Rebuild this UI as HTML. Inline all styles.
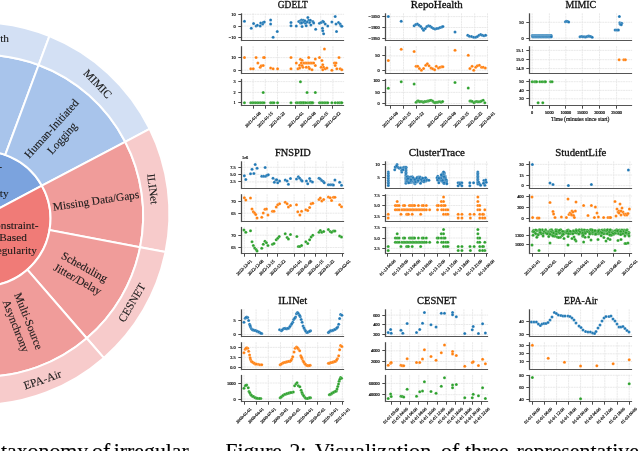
<!DOCTYPE html>
<html><head><meta charset="utf-8"><style>
html,body{margin:0;padding:0;background:#fff;width:640px;height:451px;overflow:hidden}
svg{display:block}
</style></head><body>
<div style="will-change:transform;width:640px;height:451px"><svg width="640" height="451" viewBox="0 0 640 451">
<rect width="640" height="451" fill="#fff"/>
<path d="M-18 217.3 L-84.65 216.14 A67.6 67.6 0 0 1 41.91 185.71 Z" fill="#7ba3de" stroke="#fff" stroke-width="2"/>
<path d="M-18 217.3 L41.91 185.71 A67.6 67.6 0 0 1 -28.77 285.29 Z" fill="#f07b77" stroke="#fff" stroke-width="2"/>
<path d="M-74.59 65.15 A161 161 0 0 1 38.63 65.01 L5.21 154.89 A67.6 67.6 0 0 0 -41 155.46 Z" fill="#a8c4eb" stroke="#fff" stroke-width="2"/>
<path d="M38.63 65.01 A161 161 0 0 1 125.19 141.81 L41.91 185.71 A67.6 67.6 0 0 0 5.21 154.89 Z" fill="#a8c4eb" stroke="#fff" stroke-width="2"/>
<path d="M125.19 141.81 A161 161 0 0 1 140.11 247.18 L49.54 230.06 A67.6 67.6 0 0 0 41.91 185.71 Z" fill="#f09c9a" stroke="#fff" stroke-width="2"/>
<path d="M140.11 247.18 A161 161 0 0 1 86.75 338.23 L27.34 269.64 A67.6 67.6 0 0 0 49.54 230.06 Z" fill="#f09c9a" stroke="#fff" stroke-width="2"/>
<path d="M86.75 338.23 A161 161 0 0 1 -19.39 376.79 L-18.6 286.28 A67.6 67.6 0 0 0 27.34 269.64 Z" fill="#f09c9a" stroke="#fff" stroke-width="2"/>
<path d="M-86.37 33.45 A191.4 191.4 0 0 1 49.38 36.11 L38.63 65.01 A161 161 0 0 0 -74.59 65.15 Z" fill="#d3e0f4" stroke="#fff" stroke-width="2"/>
<path d="M49.38 36.11 A191.4 191.4 0 0 1 149.61 128.93 L125.19 141.81 A161 161 0 0 0 38.63 65.01 Z" fill="#d3e0f4" stroke="#fff" stroke-width="2"/>
<path d="M149.61 128.93 A191.4 191.4 0 0 1 165.53 251.98 L140.11 247.18 A161 161 0 0 0 125.19 141.81 Z" fill="#f7cbcb" stroke="#fff" stroke-width="2"/>
<path d="M165.53 251.98 A191.4 191.4 0 0 1 103.82 357.93 L86.75 338.23 A161 161 0 0 0 140.11 247.18 Z" fill="#f7cbcb" stroke="#fff" stroke-width="2"/>
<path d="M103.82 357.93 A191.4 191.4 0 0 1 -19.64 405.09 L-19.39 376.79 A161 161 0 0 0 86.75 338.23 Z" fill="#f7cbcb" stroke="#fff" stroke-width="2"/>
<text x="13" y="228.5" text-anchor="middle" font-family="Liberation Serif" font-size="11.3" fill="#1a1a1a" stroke="#1a1a1a" stroke-width="0.1">Constraint-</text>
<text x="13" y="241.2" text-anchor="middle" font-family="Liberation Serif" font-size="11.3" fill="#1a1a1a" stroke="#1a1a1a" stroke-width="0.1">Based</text>
<text x="13" y="253.6" text-anchor="middle" font-family="Liberation Serif" font-size="11.3" fill="#1a1a1a" stroke="#1a1a1a" stroke-width="0.1">Regularity</text>
<text x="1.9" y="169.6" text-anchor="end" font-family="Liberation Serif" font-size="11.3" fill="#1a1a1a" stroke="#1a1a1a" stroke-width="0.1">Event-</text>
<text x="8.6" y="197.2" text-anchor="end" font-family="Liberation Serif" font-size="11.3" fill="#1a1a1a" stroke="#1a1a1a" stroke-width="0.1">Irregularity</text>
<g transform="translate(56.9 133.5) rotate(-48)"><text x="0" y="-3.5" text-anchor="middle" font-family="Liberation Serif" font-size="11.3" fill="#1a1a1a" stroke="#1a1a1a" stroke-width="0.1">Human-Initiated</text><text x="0" y="10.7" text-anchor="middle" font-family="Liberation Serif" font-size="11.3" fill="#1a1a1a" stroke="#1a1a1a" stroke-width="0.1">Logging</text></g>
<g transform="translate(96 200.8) rotate(-8.5)"><text x="0" y="3.6" text-anchor="middle" font-family="Liberation Serif" font-size="11.3" fill="#1a1a1a" stroke="#1a1a1a" stroke-width="0.1">Missing Data/Gaps</text></g>
<g transform="translate(81 273.2) rotate(29)"><text x="0" y="-3.4" text-anchor="middle" font-family="Liberation Serif" font-size="11.3" fill="#1a1a1a" stroke="#1a1a1a" stroke-width="0.1">Scheduling</text><text x="0" y="10.6" text-anchor="middle" font-family="Liberation Serif" font-size="11.3" fill="#1a1a1a" stroke="#1a1a1a" stroke-width="0.1">Jitter/Delay</text></g>
<g transform="translate(22.2 323.6) rotate(68.5)"><text x="0" y="-3.2" text-anchor="middle" font-family="Liberation Serif" font-size="11.3" fill="#1a1a1a" stroke="#1a1a1a" stroke-width="0.1">Multi-Source</text><text x="0" y="10.4" text-anchor="middle" font-family="Liberation Serif" font-size="11.3" fill="#1a1a1a" stroke="#1a1a1a" stroke-width="0.1">Asynchrony</text></g>
<g transform="translate(-18 38.4) rotate(0)"><text x="0" y="3.6" text-anchor="middle" font-family="Liberation Serif" font-size="11.3" fill="#1a1a1a" stroke="#1a1a1a" stroke-width="0.1">RepoHealth</text></g>
<g transform="translate(97.6 84) rotate(46)"><text x="0" y="3.6" text-anchor="middle" font-family="Liberation Serif" font-size="11.3" fill="#1a1a1a" stroke="#1a1a1a" stroke-width="0.1">MIMIC</text></g>
<g transform="translate(152.6 189) rotate(83)"><text x="0" y="3.6" text-anchor="middle" font-family="Liberation Serif" font-size="11.3" fill="#1a1a1a" stroke="#1a1a1a" stroke-width="0.1">ILINet</text></g>
<g transform="translate(132 302.7) rotate(-59.6)"><text x="0" y="3.6" text-anchor="middle" font-family="Liberation Serif" font-size="11.3" fill="#1a1a1a" stroke="#1a1a1a" stroke-width="0.1">CESNET</text></g>
<g transform="translate(42.5 379.8) rotate(-19)"><text x="0" y="3.6" text-anchor="middle" font-family="Liberation Serif" font-size="11.3" fill="#1a1a1a" stroke="#1a1a1a" stroke-width="0.1">EPA-Air</text></g>
<text x="292.8" y="8.3" text-anchor="middle" font-family="Liberation Serif" font-size="10" fill="#111" stroke="#111" stroke-width="0.3" textLength="30" lengthAdjust="spacingAndGlyphs">GDELT</text>
<g stroke="#e4e4e4" stroke-width="0.8" stroke-dasharray="2 0.6"><line x1="253.1" y1="13.3" x2="253.1" y2="40.5"/><line x1="265.3" y1="13.3" x2="265.3" y2="40.5"/><line x1="277.5" y1="13.3" x2="277.5" y2="40.5"/><line x1="295.9" y1="13.3" x2="295.9" y2="40.5"/><line x1="308.1" y1="13.3" x2="308.1" y2="40.5"/><line x1="320.7" y1="13.3" x2="320.7" y2="40.5"/><line x1="332.9" y1="13.3" x2="332.9" y2="40.5"/><line x1="241.5" y1="14.3" x2="344.1" y2="14.3"/><line x1="241.5" y1="26.05" x2="344.1" y2="26.05"/><line x1="241.5" y1="37.5" x2="344.1" y2="37.5"/></g>
<g fill="#1f77b4" stroke="#fff" stroke-width="0.25" stroke-opacity="0.7"><circle cx="244.47" cy="21.26" r="1.5"/><circle cx="251.26" cy="28.21" r="1.5"/><circle cx="253.58" cy="23.58" r="1.5"/><circle cx="256.06" cy="26.06" r="1.5"/><circle cx="257.38" cy="25.23" r="1.5"/><circle cx="260.2" cy="26.06" r="1.5"/><circle cx="260.7" cy="22.91" r="1.5"/><circle cx="262.68" cy="24.07" r="1.5"/><circle cx="263.18" cy="22.42" r="1.5"/><circle cx="264.34" cy="21.92" r="1.5"/><circle cx="270.63" cy="19.93" r="1.5"/><circle cx="270.63" cy="24.07" r="1.5"/><circle cx="273.11" cy="37.32" r="1.5"/><circle cx="277.25" cy="31.52" r="1.5"/><circle cx="290.99" cy="22.42" r="1.5"/><circle cx="290.99" cy="25.73" r="1.5"/><circle cx="296.29" cy="26.06" r="1.5"/><circle cx="298.77" cy="21.59" r="1.5"/><circle cx="300.43" cy="20.76" r="1.5"/><circle cx="301.59" cy="19.93" r="1.5"/><circle cx="302.58" cy="21.59" r="1.5"/><circle cx="303.25" cy="20.26" r="1.5"/><circle cx="302.09" cy="26.56" r="1.5"/><circle cx="305.4" cy="23.25" r="1.5"/><circle cx="306.23" cy="25.73" r="1.5"/><circle cx="307.88" cy="17.45" r="1.5"/><circle cx="308.71" cy="20.26" r="1.5"/><circle cx="309.54" cy="22.42" r="1.5"/><circle cx="310.86" cy="24.9" r="1.5"/><circle cx="312.85" cy="21.59" r="1.5"/><circle cx="313.68" cy="22.91" r="1.5"/><circle cx="315.66" cy="29.37" r="1.5"/><circle cx="319.47" cy="23.25" r="1.5"/><circle cx="321.13" cy="22.42" r="1.5"/><circle cx="322.78" cy="21.26" r="1.5"/><circle cx="323.61" cy="21.92" r="1.5"/><circle cx="322.45" cy="28.21" r="1.5"/><circle cx="322.78" cy="30.7" r="1.5"/><circle cx="323.61" cy="33.68" r="1.5"/><circle cx="325.26" cy="24.07" r="1.5"/><circle cx="327.75" cy="26.06" r="1.5"/><circle cx="331.89" cy="21.92" r="1.5"/><circle cx="335.2" cy="16.62" r="1.5"/><circle cx="336.03" cy="24.07" r="1.5"/><circle cx="336.52" cy="31.52" r="1.5"/><circle cx="338.51" cy="22.42" r="1.5"/><circle cx="340.17" cy="24.07" r="1.5"/><circle cx="340.99" cy="25.73" r="1.5"/><circle cx="341.82" cy="26.23" r="1.5"/><circle cx="300.43" cy="22.91" r="1.5"/><circle cx="303.74" cy="21.92" r="1.5"/><circle cx="307.05" cy="21.92" r="1.5"/><circle cx="310.36" cy="20.26" r="1.5"/><circle cx="304.9" cy="20.76" r="1.5"/><circle cx="301.59" cy="22.91" r="1.5"/></g>
<line x1="241.5" y1="13.3" x2="241.5" y2="41.1" stroke="#4a4a4a" stroke-width="1.25"/>
<line x1="241" y1="40.5" x2="344.1" y2="40.5" stroke="#555" stroke-width="1.2"/>
<text x="235.6" y="15.8" text-anchor="end" font-family="Liberation Serif" font-size="4.3" fill="#111" stroke="#111" stroke-width="0.2">10</text>
<text x="235.6" y="27.55" text-anchor="end" font-family="Liberation Serif" font-size="4.3" fill="#111" stroke="#111" stroke-width="0.2">0</text>
<text x="235.6" y="39" text-anchor="end" font-family="Liberation Serif" font-size="4.3" fill="#111" stroke="#111" stroke-width="0.2">−10</text>
<line x1="238.3" y1="14.5" x2="241.5" y2="14.5" stroke="#4a4a4a" stroke-width="1"/>
<line x1="238.3" y1="26.5" x2="241.5" y2="26.5" stroke="#4a4a4a" stroke-width="1"/>
<line x1="238.3" y1="37.5" x2="241.5" y2="37.5" stroke="#4a4a4a" stroke-width="1"/>
<g stroke="#e4e4e4" stroke-width="0.8" stroke-dasharray="2 0.6"><line x1="253.1" y1="46.2" x2="253.1" y2="73.5"/><line x1="265.3" y1="46.2" x2="265.3" y2="73.5"/><line x1="277.5" y1="46.2" x2="277.5" y2="73.5"/><line x1="295.9" y1="46.2" x2="295.9" y2="73.5"/><line x1="308.1" y1="46.2" x2="308.1" y2="73.5"/><line x1="320.7" y1="46.2" x2="320.7" y2="73.5"/><line x1="332.9" y1="46.2" x2="332.9" y2="73.5"/><line x1="241.5" y1="57.6" x2="344.1" y2="57.6"/><line x1="241.5" y1="70.2" x2="344.1" y2="70.2"/></g>
<g fill="#ff7f0e" stroke="#fff" stroke-width="0.25" stroke-opacity="0.7"><circle cx="244.47" cy="57.58" r="1.5"/><circle cx="250.76" cy="68.83" r="1.5"/><circle cx="253.25" cy="68.83" r="1.5"/><circle cx="256.06" cy="57.58" r="1.5"/><circle cx="257.88" cy="63.04" r="1.5"/><circle cx="260.2" cy="67.18" r="1.5"/><circle cx="261.19" cy="65.85" r="1.5"/><circle cx="263.18" cy="65.52" r="1.5"/><circle cx="263.51" cy="57.58" r="1.5"/><circle cx="264.34" cy="57.58" r="1.5"/><circle cx="270.63" cy="68.01" r="1.5"/><circle cx="273.11" cy="68.83" r="1.5"/><circle cx="277.58" cy="68.83" r="1.5"/><circle cx="290.99" cy="57.58" r="1.5"/><circle cx="290.99" cy="68.83" r="1.5"/><circle cx="296.29" cy="63.04" r="1.5"/><circle cx="297.95" cy="68.83" r="1.5"/><circle cx="299.6" cy="68.01" r="1.5"/><circle cx="300.43" cy="59.23" r="1.5"/><circle cx="302.09" cy="60.23" r="1.5"/><circle cx="301.26" cy="63.04" r="1.5"/><circle cx="303.74" cy="63.04" r="1.5"/><circle cx="305.4" cy="63.04" r="1.5"/><circle cx="307.05" cy="63.04" r="1.5"/><circle cx="308.71" cy="63.04" r="1.5"/><circle cx="310.36" cy="63.04" r="1.5"/><circle cx="312.02" cy="63.04" r="1.5"/><circle cx="302.91" cy="67.18" r="1.5"/><circle cx="308.71" cy="57.58" r="1.5"/><circle cx="308.71" cy="67.18" r="1.5"/><circle cx="309.54" cy="68.83" r="1.5"/><circle cx="312.02" cy="69.66" r="1.5"/><circle cx="315.33" cy="58.9" r="1.5"/><circle cx="319.47" cy="57.58" r="1.5"/><circle cx="321.95" cy="60.56" r="1.5"/><circle cx="321.13" cy="67.18" r="1.5"/><circle cx="322.78" cy="64.7" r="1.5"/><circle cx="323.61" cy="67.18" r="1.5"/><circle cx="324.44" cy="48.97" r="1.5"/><circle cx="322.78" cy="69.66" r="1.5"/><circle cx="325.26" cy="68.83" r="1.5"/><circle cx="326.92" cy="68.01" r="1.5"/><circle cx="331.89" cy="70.16" r="1.5"/><circle cx="334.37" cy="63.04" r="1.5"/><circle cx="336.03" cy="63.04" r="1.5"/><circle cx="335.2" cy="65.52" r="1.5"/><circle cx="336.85" cy="68.83" r="1.5"/><circle cx="339.01" cy="57.58" r="1.5"/><circle cx="340.17" cy="68.83" r="1.5"/><circle cx="341.82" cy="69.66" r="1.5"/><circle cx="299.6" cy="65.19" r="1.5"/><circle cx="302.09" cy="65.52" r="1.5"/><circle cx="306.23" cy="67.18" r="1.5"/><circle cx="315.33" cy="65.52" r="1.5"/><circle cx="313.68" cy="63.04" r="1.5"/></g>
<line x1="241.5" y1="46.2" x2="241.5" y2="74.1" stroke="#4a4a4a" stroke-width="1.25"/>
<line x1="241" y1="73.5" x2="344.1" y2="73.5" stroke="#555" stroke-width="1.2"/>
<text x="235.6" y="59.1" text-anchor="end" font-family="Liberation Serif" font-size="4.3" fill="#111" stroke="#111" stroke-width="0.2">10</text>
<text x="235.6" y="71.7" text-anchor="end" font-family="Liberation Serif" font-size="4.3" fill="#111" stroke="#111" stroke-width="0.2">0</text>
<line x1="238.3" y1="57.5" x2="241.5" y2="57.5" stroke="#4a4a4a" stroke-width="1"/>
<line x1="238.3" y1="70.5" x2="241.5" y2="70.5" stroke="#4a4a4a" stroke-width="1"/>
<g stroke="#e4e4e4" stroke-width="0.8" stroke-dasharray="2 0.6"><line x1="253.1" y1="78.9" x2="253.1" y2="105.5"/><line x1="265.3" y1="78.9" x2="265.3" y2="105.5"/><line x1="277.5" y1="78.9" x2="277.5" y2="105.5"/><line x1="295.9" y1="78.9" x2="295.9" y2="105.5"/><line x1="308.1" y1="78.9" x2="308.1" y2="105.5"/><line x1="320.7" y1="78.9" x2="320.7" y2="105.5"/><line x1="332.9" y1="78.9" x2="332.9" y2="105.5"/><line x1="241.5" y1="81.6" x2="344.1" y2="81.6"/><line x1="241.5" y1="92.4" x2="344.1" y2="92.4"/><line x1="241.5" y1="102.7" x2="344.1" y2="102.7"/></g>
<g fill="#2ca02c" stroke="#fff" stroke-width="0.25" stroke-opacity="0.7"><circle cx="244.47" cy="102.66" r="1.5"/><circle cx="250.76" cy="102.66" r="1.5"/><circle cx="252.42" cy="102.66" r="1.5"/><circle cx="254.07" cy="102.66" r="1.5"/><circle cx="255.73" cy="102.66" r="1.5"/><circle cx="257.38" cy="102.66" r="1.5"/><circle cx="259.04" cy="102.66" r="1.5"/><circle cx="260.7" cy="102.66" r="1.5"/><circle cx="262.35" cy="102.66" r="1.5"/><circle cx="264.01" cy="102.66" r="1.5"/><circle cx="270.63" cy="102.66" r="1.5"/><circle cx="272.28" cy="102.66" r="1.5"/><circle cx="273.94" cy="102.66" r="1.5"/><circle cx="277.58" cy="102.66" r="1.5"/><circle cx="290.99" cy="102.66" r="1.5"/><circle cx="296.29" cy="102.66" r="1.5"/><circle cx="297.95" cy="102.66" r="1.5"/><circle cx="299.6" cy="102.66" r="1.5"/><circle cx="301.26" cy="102.66" r="1.5"/><circle cx="302.91" cy="102.66" r="1.5"/><circle cx="304.57" cy="102.66" r="1.5"/><circle cx="307.88" cy="102.66" r="1.5"/><circle cx="309.54" cy="102.66" r="1.5"/><circle cx="311.19" cy="102.66" r="1.5"/><circle cx="312.85" cy="102.66" r="1.5"/><circle cx="319.47" cy="102.66" r="1.5"/><circle cx="321.13" cy="102.66" r="1.5"/><circle cx="322.78" cy="102.66" r="1.5"/><circle cx="324.44" cy="102.66" r="1.5"/><circle cx="326.09" cy="102.66" r="1.5"/><circle cx="327.75" cy="102.66" r="1.5"/><circle cx="331.89" cy="102.66" r="1.5"/><circle cx="335.2" cy="102.66" r="1.5"/><circle cx="337.68" cy="102.66" r="1.5"/><circle cx="339.34" cy="102.66" r="1.5"/><circle cx="340.99" cy="102.66" r="1.5"/><circle cx="341.82" cy="102.66" r="1.5"/><circle cx="300.43" cy="102.66" r="1.5"/><circle cx="302.09" cy="102.66" r="1.5"/><circle cx="303.74" cy="102.66" r="1.5"/><circle cx="305.89" cy="102.66" r="1.5"/><circle cx="310.36" cy="102.66" r="1.5"/><circle cx="312.02" cy="102.66" r="1.5"/><circle cx="263.18" cy="92.4" r="1.5"/><circle cx="307.05" cy="92.4" r="1.5"/><circle cx="315.33" cy="92.4" r="1.5"/><circle cx="300.43" cy="81.64" r="1.5"/></g>
<line x1="241.5" y1="78.9" x2="241.5" y2="106.1" stroke="#4a4a4a" stroke-width="1.25"/>
<line x1="241" y1="105.5" x2="344.1" y2="105.5" stroke="#555" stroke-width="1.2"/>
<text x="235.6" y="83.1" text-anchor="end" font-family="Liberation Serif" font-size="4.3" fill="#111" stroke="#111" stroke-width="0.2">3</text>
<text x="235.6" y="93.9" text-anchor="end" font-family="Liberation Serif" font-size="4.3" fill="#111" stroke="#111" stroke-width="0.2">2</text>
<text x="235.6" y="104.2" text-anchor="end" font-family="Liberation Serif" font-size="4.3" fill="#111" stroke="#111" stroke-width="0.2">1</text>
<line x1="238.3" y1="81.5" x2="241.5" y2="81.5" stroke="#4a4a4a" stroke-width="1"/>
<line x1="238.3" y1="92.5" x2="241.5" y2="92.5" stroke="#4a4a4a" stroke-width="1"/>
<line x1="238.3" y1="102.5" x2="241.5" y2="102.5" stroke="#4a4a4a" stroke-width="1"/>
<line x1="253.5" y1="105.5" x2="253.5" y2="108.7" stroke="#4a4a4a" stroke-width="1"/>
<text transform="translate(252.8 119.5) rotate(-45)" x="0" y="1.5" text-anchor="middle" font-family="Liberation Serif" font-size="4.3" fill="#111" stroke="#111" stroke-width="0.2">2021-01-08</text>
<line x1="265.5" y1="105.5" x2="265.5" y2="108.7" stroke="#4a4a4a" stroke-width="1"/>
<text transform="translate(265 119.5) rotate(-45)" x="0" y="1.5" text-anchor="middle" font-family="Liberation Serif" font-size="4.3" fill="#111" stroke="#111" stroke-width="0.2">2021-01-15</text>
<line x1="277.5" y1="105.5" x2="277.5" y2="108.7" stroke="#4a4a4a" stroke-width="1"/>
<text transform="translate(277.2 119.5) rotate(-45)" x="0" y="1.5" text-anchor="middle" font-family="Liberation Serif" font-size="4.3" fill="#111" stroke="#111" stroke-width="0.2">2021-01-22</text>
<line x1="295.5" y1="105.5" x2="295.5" y2="108.7" stroke="#4a4a4a" stroke-width="1"/>
<text transform="translate(295.6 119.5) rotate(-45)" x="0" y="1.5" text-anchor="middle" font-family="Liberation Serif" font-size="4.3" fill="#111" stroke="#111" stroke-width="0.2">2021-02-01</text>
<line x1="308.5" y1="105.5" x2="308.5" y2="108.7" stroke="#4a4a4a" stroke-width="1"/>
<text transform="translate(307.8 119.5) rotate(-45)" x="0" y="1.5" text-anchor="middle" font-family="Liberation Serif" font-size="4.3" fill="#111" stroke="#111" stroke-width="0.2">2021-02-08</text>
<line x1="320.5" y1="105.5" x2="320.5" y2="108.7" stroke="#4a4a4a" stroke-width="1"/>
<text transform="translate(320.4 119.5) rotate(-45)" x="0" y="1.5" text-anchor="middle" font-family="Liberation Serif" font-size="4.3" fill="#111" stroke="#111" stroke-width="0.2">2021-02-15</text>
<line x1="332.5" y1="105.5" x2="332.5" y2="108.7" stroke="#4a4a4a" stroke-width="1"/>
<text transform="translate(332.6 119.5) rotate(-45)" x="0" y="1.5" text-anchor="middle" font-family="Liberation Serif" font-size="4.3" fill="#111" stroke="#111" stroke-width="0.2">2021-02-22</text>
<text x="436.8" y="8.3" text-anchor="middle" font-family="Liberation Serif" font-size="10" fill="#111" stroke="#111" stroke-width="0.3" textLength="52" lengthAdjust="spacingAndGlyphs">RepoHealth</text>
<g stroke="#e4e4e4" stroke-width="0.8" stroke-dasharray="2 0.6"><line x1="390.3" y1="13.3" x2="390.3" y2="40.5"/><line x1="403.5" y1="13.3" x2="403.5" y2="40.5"/><line x1="416.3" y1="13.3" x2="416.3" y2="40.5"/><line x1="435" y1="13.3" x2="435" y2="40.5"/><line x1="448.3" y1="13.3" x2="448.3" y2="40.5"/><line x1="461.5" y1="13.3" x2="461.5" y2="40.5"/><line x1="474.7" y1="13.3" x2="474.7" y2="40.5"/><line x1="487.5" y1="13.3" x2="487.5" y2="40.5"/><line x1="385.5" y1="16.6" x2="488.1" y2="16.6"/><line x1="385.5" y1="27.5" x2="488.1" y2="27.5"/><line x1="385.5" y1="38.6" x2="488.1" y2="38.6"/></g>
<g fill="#1f77b4" stroke="#fff" stroke-width="0.25" stroke-opacity="0.7"><circle cx="388.3" cy="16.62" r="1.5"/><circle cx="401.21" cy="21.26" r="1.5"/><circle cx="414.13" cy="25.73" r="1.5"/><circle cx="415.78" cy="24.57" r="1.5"/><circle cx="417.44" cy="24.07" r="1.5"/><circle cx="419.09" cy="25.23" r="1.5"/><circle cx="420.75" cy="26.56" r="1.5"/><circle cx="422.4" cy="28.54" r="1.5"/><circle cx="423.56" cy="30.2" r="1.5"/><circle cx="425.22" cy="28.54" r="1.5"/><circle cx="426.87" cy="26.56" r="1.5"/><circle cx="428.53" cy="25.73" r="1.5"/><circle cx="430.19" cy="26.23" r="1.5"/><circle cx="431.84" cy="27.38" r="1.5"/><circle cx="433.5" cy="28.54" r="1.5"/><circle cx="435.15" cy="29.04" r="1.5"/><circle cx="436.81" cy="28.54" r="1.5"/><circle cx="438.46" cy="28.21" r="1.5"/><circle cx="440.12" cy="27.38" r="1.5"/><circle cx="441.77" cy="26.89" r="1.5"/><circle cx="442.93" cy="26.56" r="1.5"/><circle cx="455.02" cy="32.02" r="1.5"/><circle cx="467.77" cy="35.17" r="1.5"/><circle cx="469.42" cy="36.16" r="1.5"/><circle cx="471.58" cy="36.49" r="1.5"/><circle cx="473.73" cy="37.32" r="1.5"/><circle cx="475.72" cy="37.32" r="1.5"/><circle cx="477.37" cy="36.49" r="1.5"/><circle cx="479.03" cy="35.17" r="1.5"/><circle cx="480.68" cy="34.5" r="1.5"/><circle cx="482.34" cy="35.17" r="1.5"/><circle cx="483.99" cy="35.66" r="1.5"/><circle cx="485.65" cy="35.17" r="1.5"/></g>
<line x1="385.5" y1="13.3" x2="385.5" y2="41.1" stroke="#4a4a4a" stroke-width="1.25"/>
<line x1="385" y1="40.5" x2="488.1" y2="40.5" stroke="#555" stroke-width="1.2"/>
<text x="379.6" y="18.1" text-anchor="end" font-family="Liberation Serif" font-size="4.3" fill="#111" stroke="#111" stroke-width="0.2">−1850</text>
<text x="379.6" y="29" text-anchor="end" font-family="Liberation Serif" font-size="4.3" fill="#111" stroke="#111" stroke-width="0.2">−1900</text>
<text x="379.6" y="40.1" text-anchor="end" font-family="Liberation Serif" font-size="4.3" fill="#111" stroke="#111" stroke-width="0.2">−1950</text>
<line x1="382.3" y1="16.5" x2="385.5" y2="16.5" stroke="#4a4a4a" stroke-width="1"/>
<line x1="382.3" y1="27.5" x2="385.5" y2="27.5" stroke="#4a4a4a" stroke-width="1"/>
<line x1="382.3" y1="38.5" x2="385.5" y2="38.5" stroke="#4a4a4a" stroke-width="1"/>
<g stroke="#e4e4e4" stroke-width="0.8" stroke-dasharray="2 0.6"><line x1="390.3" y1="46.2" x2="390.3" y2="73.5"/><line x1="403.5" y1="46.2" x2="403.5" y2="73.5"/><line x1="416.3" y1="46.2" x2="416.3" y2="73.5"/><line x1="435" y1="46.2" x2="435" y2="73.5"/><line x1="448.3" y1="46.2" x2="448.3" y2="73.5"/><line x1="461.5" y1="46.2" x2="461.5" y2="73.5"/><line x1="474.7" y1="46.2" x2="474.7" y2="73.5"/><line x1="487.5" y1="46.2" x2="487.5" y2="73.5"/><line x1="385.5" y1="55.9" x2="488.1" y2="55.9"/><line x1="385.5" y1="70.2" x2="488.1" y2="70.2"/></g>
<g fill="#ff7f0e" stroke="#fff" stroke-width="0.25" stroke-opacity="0.7"><circle cx="388.3" cy="60.56" r="1.5"/><circle cx="401.21" cy="49.3" r="1.5"/><circle cx="414.13" cy="51.45" r="1.5"/><circle cx="416.11" cy="66.35" r="1.5"/><circle cx="417.77" cy="66.35" r="1.5"/><circle cx="419.42" cy="68.5" r="1.5"/><circle cx="421.41" cy="70.16" r="1.5"/><circle cx="423.56" cy="68.5" r="1.5"/><circle cx="425.72" cy="65.19" r="1.5"/><circle cx="427.37" cy="63.87" r="1.5"/><circle cx="429.03" cy="65.85" r="1.5"/><circle cx="431.01" cy="68.01" r="1.5"/><circle cx="432.67" cy="68.83" r="1.5"/><circle cx="434.66" cy="69.66" r="1.5"/><circle cx="436.31" cy="66.35" r="1.5"/><circle cx="438.46" cy="68.01" r="1.5"/><circle cx="440.12" cy="67.18" r="1.5"/><circle cx="441.77" cy="66.85" r="1.5"/><circle cx="442.93" cy="66.85" r="1.5"/><circle cx="455.02" cy="50.29" r="1.5"/><circle cx="468.26" cy="55.26" r="1.5"/><circle cx="469.92" cy="68.5" r="1.5"/><circle cx="472.07" cy="66.35" r="1.5"/><circle cx="473.73" cy="70.16" r="1.5"/><circle cx="475.72" cy="67.18" r="1.5"/><circle cx="477.37" cy="65.85" r="1.5"/><circle cx="479.36" cy="65.19" r="1.5"/><circle cx="481.51" cy="67.18" r="1.5"/><circle cx="483.17" cy="67.18" r="1.5"/><circle cx="485.32" cy="68.01" r="1.5"/></g>
<line x1="385.5" y1="46.2" x2="385.5" y2="74.1" stroke="#4a4a4a" stroke-width="1.25"/>
<line x1="385" y1="73.5" x2="488.1" y2="73.5" stroke="#555" stroke-width="1.2"/>
<text x="379.6" y="57.4" text-anchor="end" font-family="Liberation Serif" font-size="4.3" fill="#111" stroke="#111" stroke-width="0.2">50</text>
<text x="379.6" y="71.7" text-anchor="end" font-family="Liberation Serif" font-size="4.3" fill="#111" stroke="#111" stroke-width="0.2">0</text>
<line x1="382.3" y1="55.5" x2="385.5" y2="55.5" stroke="#4a4a4a" stroke-width="1"/>
<line x1="382.3" y1="70.5" x2="385.5" y2="70.5" stroke="#4a4a4a" stroke-width="1"/>
<g stroke="#e4e4e4" stroke-width="0.8" stroke-dasharray="2 0.6"><line x1="390.3" y1="78.9" x2="390.3" y2="105.5"/><line x1="403.5" y1="78.9" x2="403.5" y2="105.5"/><line x1="416.3" y1="78.9" x2="416.3" y2="105.5"/><line x1="435" y1="78.9" x2="435" y2="105.5"/><line x1="448.3" y1="78.9" x2="448.3" y2="105.5"/><line x1="461.5" y1="78.9" x2="461.5" y2="105.5"/><line x1="474.7" y1="78.9" x2="474.7" y2="105.5"/><line x1="487.5" y1="78.9" x2="487.5" y2="105.5"/><line x1="385.5" y1="80" x2="488.1" y2="80"/><line x1="385.5" y1="92.4" x2="488.1" y2="92.4"/><line x1="385.5" y1="103.5" x2="488.1" y2="103.5"/></g>
<g fill="#2ca02c" stroke="#fff" stroke-width="0.25" stroke-opacity="0.7"><circle cx="388.3" cy="88.26" r="1.5"/><circle cx="401.21" cy="81.64" r="1.5"/><circle cx="414.13" cy="84.12" r="1.5"/><circle cx="416.11" cy="102.17" r="1.5"/><circle cx="417.44" cy="101.01" r="1.5"/><circle cx="418.6" cy="101.01" r="1.5"/><circle cx="419.75" cy="101.83" r="1.5"/><circle cx="421.08" cy="101.5" r="1.5"/><circle cx="422.4" cy="101.83" r="1.5"/><circle cx="423.56" cy="102.17" r="1.5"/><circle cx="424.72" cy="101.5" r="1.5"/><circle cx="426.05" cy="101.5" r="1.5"/><circle cx="427.37" cy="101.01" r="1.5"/><circle cx="428.53" cy="101.01" r="1.5"/><circle cx="429.69" cy="100.51" r="1.5"/><circle cx="431.01" cy="100.18" r="1.5"/><circle cx="432.67" cy="101.01" r="1.5"/><circle cx="433.99" cy="102.17" r="1.5"/><circle cx="435.15" cy="102.66" r="1.5"/><circle cx="436.31" cy="102.17" r="1.5"/><circle cx="437.64" cy="102.17" r="1.5"/><circle cx="438.96" cy="101.83" r="1.5"/><circle cx="440.12" cy="101.83" r="1.5"/><circle cx="441.28" cy="102.17" r="1.5"/><circle cx="442.6" cy="101.5" r="1.5"/><circle cx="455.02" cy="82.46" r="1.5"/><circle cx="468.26" cy="88.09" r="1.5"/><circle cx="469.92" cy="101.01" r="1.5"/><circle cx="471.08" cy="101.01" r="1.5"/><circle cx="472.4" cy="101.5" r="1.5"/><circle cx="474.06" cy="102.66" r="1.5"/><circle cx="475.38" cy="101.83" r="1.5"/><circle cx="476.54" cy="101.5" r="1.5"/><circle cx="477.7" cy="101.83" r="1.5"/><circle cx="479.03" cy="101.83" r="1.5"/><circle cx="480.35" cy="101.5" r="1.5"/><circle cx="481.51" cy="101.01" r="1.5"/><circle cx="483.17" cy="100.18" r="1.5"/><circle cx="484.82" cy="102.66" r="1.5"/></g>
<line x1="385.5" y1="78.9" x2="385.5" y2="106.1" stroke="#4a4a4a" stroke-width="1.25"/>
<line x1="385" y1="105.5" x2="488.1" y2="105.5" stroke="#555" stroke-width="1.2"/>
<text x="379.6" y="81.5" text-anchor="end" font-family="Liberation Serif" font-size="4.3" fill="#111" stroke="#111" stroke-width="0.2">100</text>
<text x="379.6" y="93.9" text-anchor="end" font-family="Liberation Serif" font-size="4.3" fill="#111" stroke="#111" stroke-width="0.2">50</text>
<text x="379.6" y="105" text-anchor="end" font-family="Liberation Serif" font-size="4.3" fill="#111" stroke="#111" stroke-width="0.2">0</text>
<line x1="382.3" y1="80.5" x2="385.5" y2="80.5" stroke="#4a4a4a" stroke-width="1"/>
<line x1="382.3" y1="92.5" x2="385.5" y2="92.5" stroke="#4a4a4a" stroke-width="1"/>
<line x1="382.3" y1="103.5" x2="385.5" y2="103.5" stroke="#4a4a4a" stroke-width="1"/>
<line x1="390.5" y1="105.5" x2="390.5" y2="108.7" stroke="#4a4a4a" stroke-width="1"/>
<text transform="translate(390 119.5) rotate(-45)" x="0" y="1.5" text-anchor="middle" font-family="Liberation Serif" font-size="4.3" fill="#111" stroke="#111" stroke-width="0.2">2021-01-08</text>
<line x1="403.5" y1="105.5" x2="403.5" y2="108.7" stroke="#4a4a4a" stroke-width="1"/>
<text transform="translate(403.2 119.5) rotate(-45)" x="0" y="1.5" text-anchor="middle" font-family="Liberation Serif" font-size="4.3" fill="#111" stroke="#111" stroke-width="0.2">2021-01-15</text>
<line x1="416.5" y1="105.5" x2="416.5" y2="108.7" stroke="#4a4a4a" stroke-width="1"/>
<text transform="translate(416 119.5) rotate(-45)" x="0" y="1.5" text-anchor="middle" font-family="Liberation Serif" font-size="4.3" fill="#111" stroke="#111" stroke-width="0.2">2021-01-22</text>
<line x1="435.5" y1="105.5" x2="435.5" y2="108.7" stroke="#4a4a4a" stroke-width="1"/>
<text transform="translate(434.7 119.5) rotate(-45)" x="0" y="1.5" text-anchor="middle" font-family="Liberation Serif" font-size="4.3" fill="#111" stroke="#111" stroke-width="0.2">2021-02-01</text>
<line x1="448.5" y1="105.5" x2="448.5" y2="108.7" stroke="#4a4a4a" stroke-width="1"/>
<text transform="translate(448 119.5) rotate(-45)" x="0" y="1.5" text-anchor="middle" font-family="Liberation Serif" font-size="4.3" fill="#111" stroke="#111" stroke-width="0.2">2021-02-08</text>
<line x1="461.5" y1="105.5" x2="461.5" y2="108.7" stroke="#4a4a4a" stroke-width="1"/>
<text transform="translate(461.2 119.5) rotate(-45)" x="0" y="1.5" text-anchor="middle" font-family="Liberation Serif" font-size="4.3" fill="#111" stroke="#111" stroke-width="0.2">2021-02-15</text>
<line x1="474.5" y1="105.5" x2="474.5" y2="108.7" stroke="#4a4a4a" stroke-width="1"/>
<text transform="translate(474.4 119.5) rotate(-45)" x="0" y="1.5" text-anchor="middle" font-family="Liberation Serif" font-size="4.3" fill="#111" stroke="#111" stroke-width="0.2">2021-02-22</text>
<line x1="487.5" y1="105.5" x2="487.5" y2="108.7" stroke="#4a4a4a" stroke-width="1"/>
<text transform="translate(487.2 119.5) rotate(-45)" x="0" y="1.5" text-anchor="middle" font-family="Liberation Serif" font-size="4.3" fill="#111" stroke="#111" stroke-width="0.2">2021-03-01</text>
<text x="580.8" y="8.3" text-anchor="middle" font-family="Liberation Serif" font-size="10" fill="#111" stroke="#111" stroke-width="0.3" textLength="30.7" lengthAdjust="spacingAndGlyphs">MIMIC</text>
<g stroke="#e4e4e4" stroke-width="0.8" stroke-dasharray="2 0.6"><line x1="532.2" y1="13.3" x2="532.2" y2="40.5"/><line x1="549.4" y1="13.3" x2="549.4" y2="40.5"/><line x1="565.8" y1="13.3" x2="565.8" y2="40.5"/><line x1="582.3" y1="13.3" x2="582.3" y2="40.5"/><line x1="599.5" y1="13.3" x2="599.5" y2="40.5"/><line x1="616.6" y1="13.3" x2="616.6" y2="40.5"/><line x1="529.5" y1="22.3" x2="632.1" y2="22.3"/><line x1="529.5" y1="38.2" x2="632.1" y2="38.2"/></g>
<g fill="#1f77b4" stroke="#fff" stroke-width="0.25" stroke-opacity="0.7"><circle cx="532.3" cy="35.5" r="1.5"/><circle cx="533.09" cy="35.5" r="1.5"/><circle cx="533.88" cy="35.5" r="1.5"/><circle cx="534.66" cy="35.5" r="1.5"/><circle cx="535.45" cy="35.5" r="1.5"/><circle cx="536.24" cy="35.5" r="1.5"/><circle cx="537.02" cy="35.5" r="1.5"/><circle cx="537.81" cy="35.5" r="1.5"/><circle cx="538.6" cy="35.5" r="1.5"/><circle cx="539.39" cy="35.5" r="1.5"/><circle cx="540.17" cy="35.5" r="1.5"/><circle cx="540.96" cy="35.5" r="1.5"/><circle cx="541.75" cy="35.5" r="1.5"/><circle cx="542.54" cy="35.5" r="1.5"/><circle cx="543.33" cy="35.5" r="1.5"/><circle cx="544.11" cy="35.5" r="1.5"/><circle cx="544.9" cy="35.5" r="1.5"/><circle cx="545.69" cy="35.5" r="1.5"/><circle cx="546.48" cy="35.5" r="1.5"/><circle cx="547.26" cy="35.5" r="1.5"/><circle cx="548.05" cy="35.5" r="1.5"/><circle cx="548.84" cy="35.5" r="1.5"/><circle cx="549.62" cy="35.5" r="1.5"/><circle cx="550.41" cy="35.5" r="1.5"/><circle cx="551.2" cy="35.5" r="1.5"/><circle cx="532.6" cy="36.7" r="1.5"/><circle cx="533.38" cy="36.7" r="1.5"/><circle cx="534.16" cy="36.7" r="1.5"/><circle cx="534.94" cy="36.7" r="1.5"/><circle cx="535.72" cy="36.7" r="1.5"/><circle cx="536.5" cy="36.7" r="1.5"/><circle cx="537.28" cy="36.7" r="1.5"/><circle cx="538.05" cy="36.7" r="1.5"/><circle cx="538.83" cy="36.7" r="1.5"/><circle cx="539.61" cy="36.7" r="1.5"/><circle cx="540.39" cy="36.7" r="1.5"/><circle cx="541.17" cy="36.7" r="1.5"/><circle cx="541.95" cy="36.7" r="1.5"/><circle cx="542.73" cy="36.7" r="1.5"/><circle cx="543.51" cy="36.7" r="1.5"/><circle cx="544.29" cy="36.7" r="1.5"/><circle cx="545.07" cy="36.7" r="1.5"/><circle cx="545.85" cy="36.7" r="1.5"/><circle cx="546.62" cy="36.7" r="1.5"/><circle cx="547.4" cy="36.7" r="1.5"/><circle cx="548.18" cy="36.7" r="1.5"/><circle cx="548.96" cy="36.7" r="1.5"/><circle cx="549.74" cy="36.7" r="1.5"/><circle cx="550.52" cy="36.7" r="1.5"/><circle cx="551.3" cy="36.7" r="1.5"/><circle cx="565.43" cy="21.84" r="1.5"/><circle cx="566.36" cy="21.37" r="1.5"/><circle cx="567.49" cy="21.56" r="1.5"/><circle cx="568.71" cy="22.12" r="1.5"/><circle cx="580" cy="36.84" r="1.5"/><circle cx="581.41" cy="36.55" r="1.5"/><circle cx="582.81" cy="36.84" r="1.5"/><circle cx="584.22" cy="36.84" r="1.5"/><circle cx="585.62" cy="37.12" r="1.5"/><circle cx="587.03" cy="36.55" r="1.5"/><circle cx="588.43" cy="35.9" r="1.5"/><circle cx="589.37" cy="36.37" r="1.5"/><circle cx="590.78" cy="36.55" r="1.5"/><circle cx="592.18" cy="37.3" r="1.5"/><circle cx="615.15" cy="29.99" r="1.5"/><circle cx="617.02" cy="29.99" r="1.5"/><circle cx="618.43" cy="29.99" r="1.5"/><circle cx="619.36" cy="16.5" r="1.5"/><circle cx="619.83" cy="22.78" r="1.5"/><circle cx="620.77" cy="23.72" r="1.5"/><circle cx="621.71" cy="23.25" r="1.5"/><circle cx="620.3" cy="24.18" r="1.5"/><circle cx="621.24" cy="24.65" r="1.5"/></g>
<line x1="529.5" y1="13.3" x2="529.5" y2="41.1" stroke="#4a4a4a" stroke-width="1.25"/>
<line x1="529" y1="40.5" x2="632.1" y2="40.5" stroke="#555" stroke-width="1.2"/>
<text x="523.6" y="23.8" text-anchor="end" font-family="Liberation Serif" font-size="4.3" fill="#111" stroke="#111" stroke-width="0.2">50</text>
<text x="523.6" y="39.7" text-anchor="end" font-family="Liberation Serif" font-size="4.3" fill="#111" stroke="#111" stroke-width="0.2">0</text>
<line x1="526.3" y1="22.5" x2="529.5" y2="22.5" stroke="#4a4a4a" stroke-width="1"/>
<line x1="526.3" y1="38.5" x2="529.5" y2="38.5" stroke="#4a4a4a" stroke-width="1"/>
<g stroke="#e4e4e4" stroke-width="0.8" stroke-dasharray="2 0.6"><line x1="532.2" y1="46.2" x2="532.2" y2="73.5"/><line x1="549.4" y1="46.2" x2="549.4" y2="73.5"/><line x1="565.8" y1="46.2" x2="565.8" y2="73.5"/><line x1="582.3" y1="46.2" x2="582.3" y2="73.5"/><line x1="599.5" y1="46.2" x2="599.5" y2="73.5"/><line x1="616.6" y1="46.2" x2="616.6" y2="73.5"/><line x1="529.5" y1="50.4" x2="632.1" y2="50.4"/><line x1="529.5" y1="59.7" x2="632.1" y2="59.7"/><line x1="529.5" y1="68.6" x2="632.1" y2="68.6"/></g>
<g fill="#ff7f0e" stroke="#fff" stroke-width="0.25" stroke-opacity="0.7"><circle cx="619.1" cy="59.7" r="1.5"/><circle cx="623.8" cy="59.7" r="1.5"/><circle cx="625.4" cy="59.7" r="1.5"/></g>
<line x1="529.5" y1="46.2" x2="529.5" y2="74.1" stroke="#4a4a4a" stroke-width="1.25"/>
<line x1="529" y1="73.5" x2="632.1" y2="73.5" stroke="#555" stroke-width="1.2"/>
<text x="523.6" y="51.9" text-anchor="end" font-family="Liberation Serif" font-size="4.3" fill="#111" stroke="#111" stroke-width="0.2">15.1</text>
<text x="523.6" y="61.2" text-anchor="end" font-family="Liberation Serif" font-size="4.3" fill="#111" stroke="#111" stroke-width="0.2">15.0</text>
<text x="523.6" y="70.1" text-anchor="end" font-family="Liberation Serif" font-size="4.3" fill="#111" stroke="#111" stroke-width="0.2">14.9</text>
<line x1="526.3" y1="50.5" x2="529.5" y2="50.5" stroke="#4a4a4a" stroke-width="1"/>
<line x1="526.3" y1="59.5" x2="529.5" y2="59.5" stroke="#4a4a4a" stroke-width="1"/>
<line x1="526.3" y1="68.5" x2="529.5" y2="68.5" stroke="#4a4a4a" stroke-width="1"/>
<g stroke="#e4e4e4" stroke-width="0.8" stroke-dasharray="2 0.6"><line x1="532.2" y1="78.9" x2="532.2" y2="105.5"/><line x1="549.4" y1="78.9" x2="549.4" y2="105.5"/><line x1="565.8" y1="78.9" x2="565.8" y2="105.5"/><line x1="582.3" y1="78.9" x2="582.3" y2="105.5"/><line x1="599.5" y1="78.9" x2="599.5" y2="105.5"/><line x1="616.6" y1="78.9" x2="616.6" y2="105.5"/><line x1="529.5" y1="81.7" x2="632.1" y2="81.7"/><line x1="529.5" y1="90.4" x2="632.1" y2="90.4"/><line x1="529.5" y1="98.8" x2="632.1" y2="98.8"/></g>
<g fill="#2ca02c" stroke="#fff" stroke-width="0.25" stroke-opacity="0.7"><circle cx="532.2" cy="81.7" r="1.5"/><circle cx="534.4" cy="81.7" r="1.5"/><circle cx="535.5" cy="81.7" r="1.5"/><circle cx="536.6" cy="81.7" r="1.5"/><circle cx="539.9" cy="81.7" r="1.5"/><circle cx="542.1" cy="81.7" r="1.5"/><circle cx="544.3" cy="81.7" r="1.5"/><circle cx="545.5" cy="81.7" r="1.5"/><circle cx="550.6" cy="81.7" r="1.5"/><circle cx="552.1" cy="81.7" r="1.5"/><circle cx="538.1" cy="102.7" r="1.5"/><circle cx="542.8" cy="102.7" r="1.5"/></g>
<line x1="529.5" y1="78.9" x2="529.5" y2="106.1" stroke="#4a4a4a" stroke-width="1.25"/>
<line x1="529" y1="105.5" x2="632.1" y2="105.5" stroke="#555" stroke-width="1.2"/>
<text x="523.6" y="83.2" text-anchor="end" font-family="Liberation Serif" font-size="4.3" fill="#111" stroke="#111" stroke-width="0.2">50</text>
<text x="523.6" y="91.9" text-anchor="end" font-family="Liberation Serif" font-size="4.3" fill="#111" stroke="#111" stroke-width="0.2">40</text>
<text x="523.6" y="100.3" text-anchor="end" font-family="Liberation Serif" font-size="4.3" fill="#111" stroke="#111" stroke-width="0.2">30</text>
<line x1="526.3" y1="81.5" x2="529.5" y2="81.5" stroke="#4a4a4a" stroke-width="1"/>
<line x1="526.3" y1="90.5" x2="529.5" y2="90.5" stroke="#4a4a4a" stroke-width="1"/>
<line x1="526.3" y1="98.5" x2="529.5" y2="98.5" stroke="#4a4a4a" stroke-width="1"/>
<line x1="532.5" y1="105.5" x2="532.5" y2="108.7" stroke="#4a4a4a" stroke-width="1"/>
<text x="532.2" y="114.4" text-anchor="middle" font-family="Liberation Serif" font-size="4.3" fill="#111" stroke="#111" stroke-width="0.2">0</text>
<line x1="549.5" y1="105.5" x2="549.5" y2="108.7" stroke="#4a4a4a" stroke-width="1"/>
<text x="549.4" y="114.4" text-anchor="middle" font-family="Liberation Serif" font-size="4.3" fill="#111" stroke="#111" stroke-width="0.2">5000</text>
<line x1="565.5" y1="105.5" x2="565.5" y2="108.7" stroke="#4a4a4a" stroke-width="1"/>
<text x="565.8" y="114.4" text-anchor="middle" font-family="Liberation Serif" font-size="4.3" fill="#111" stroke="#111" stroke-width="0.2">10000</text>
<line x1="582.5" y1="105.5" x2="582.5" y2="108.7" stroke="#4a4a4a" stroke-width="1"/>
<text x="582.3" y="114.4" text-anchor="middle" font-family="Liberation Serif" font-size="4.3" fill="#111" stroke="#111" stroke-width="0.2">15000</text>
<line x1="599.5" y1="105.5" x2="599.5" y2="108.7" stroke="#4a4a4a" stroke-width="1"/>
<text x="599.5" y="114.4" text-anchor="middle" font-family="Liberation Serif" font-size="4.3" fill="#111" stroke="#111" stroke-width="0.2">20000</text>
<line x1="616.5" y1="105.5" x2="616.5" y2="108.7" stroke="#4a4a4a" stroke-width="1"/>
<text x="616.6" y="114.4" text-anchor="middle" font-family="Liberation Serif" font-size="4.3" fill="#111" stroke="#111" stroke-width="0.2">25000</text>
<text x="580.3" y="121.3" text-anchor="middle" font-family="Liberation Serif" font-size="5.6" fill="#111" stroke="#111" stroke-width="0.2" textLength="58.4" lengthAdjust="spacingAndGlyphs">Time (minutes since start)</text>
<text x="292.8" y="156.3" text-anchor="middle" font-family="Liberation Serif" font-size="10" fill="#111" stroke="#111" stroke-width="0.3" textLength="35.6" lengthAdjust="spacingAndGlyphs">FNSPID</text>
<g stroke="#e4e4e4" stroke-width="0.8" stroke-dasharray="2 0.6"><line x1="244.3" y1="161.3" x2="244.3" y2="188.5"/><line x1="255.9" y1="161.3" x2="255.9" y2="188.5"/><line x1="267.1" y1="161.3" x2="267.1" y2="188.5"/><line x1="277.8" y1="161.3" x2="277.8" y2="188.5"/><line x1="294.1" y1="161.3" x2="294.1" y2="188.5"/><line x1="304.7" y1="161.3" x2="304.7" y2="188.5"/><line x1="315.9" y1="161.3" x2="315.9" y2="188.5"/><line x1="326.6" y1="161.3" x2="326.6" y2="188.5"/><line x1="342.9" y1="161.3" x2="342.9" y2="188.5"/><line x1="241.5" y1="167.3" x2="344.1" y2="167.3"/><line x1="241.5" y1="174.4" x2="344.1" y2="174.4"/><line x1="241.5" y1="181.9" x2="344.1" y2="181.9"/></g>
<g fill="#1f77b4" stroke="#fff" stroke-width="0.25" stroke-opacity="0.7"><circle cx="244.32" cy="175.7" r="1.5"/><circle cx="245.82" cy="179.46" r="1.5"/><circle cx="250.51" cy="173.83" r="1.5"/><circle cx="252.02" cy="169.32" r="1.5"/><circle cx="253.89" cy="173.45" r="1.5"/><circle cx="255.2" cy="164.45" r="1.5"/><circle cx="257.08" cy="168.2" r="1.5"/><circle cx="261.77" cy="176.27" r="1.5"/><circle cx="263.65" cy="176.27" r="1.5"/><circle cx="265.15" cy="167.45" r="1.5"/><circle cx="265.52" cy="176.27" r="1.5"/><circle cx="267.02" cy="175.33" r="1.5"/><circle cx="268.34" cy="174.77" r="1.5"/><circle cx="273.03" cy="178.14" r="1.5"/><circle cx="274.34" cy="182.27" r="1.5"/><circle cx="275.84" cy="180.02" r="1.5"/><circle cx="276.78" cy="179.64" r="1.5"/><circle cx="277.72" cy="182.83" r="1.5"/><circle cx="279.59" cy="180.96" r="1.5"/><circle cx="285.22" cy="180.02" r="1.5"/><circle cx="287.1" cy="180.96" r="1.5"/><circle cx="288.41" cy="184.15" r="1.5"/><circle cx="290.48" cy="178.52" r="1.5"/><circle cx="296.48" cy="179.08" r="1.5"/><circle cx="298.36" cy="176.64" r="1.5"/><circle cx="299.67" cy="178.14" r="1.5"/><circle cx="301.17" cy="180.02" r="1.5"/><circle cx="302.11" cy="180.96" r="1.5"/><circle cx="306.42" cy="180.96" r="1.5"/><circle cx="307.74" cy="183.77" r="1.5"/><circle cx="309.61" cy="178.52" r="1.5"/><circle cx="310.55" cy="180.96" r="1.5"/><circle cx="312.43" cy="181.89" r="1.5"/><circle cx="318.99" cy="178.14" r="1.5"/><circle cx="320.31" cy="179.08" r="1.5"/><circle cx="321.81" cy="180.39" r="1.5"/><circle cx="323.31" cy="181.52" r="1.5"/><circle cx="324.25" cy="182.83" r="1.5"/><circle cx="328.38" cy="184.71" r="1.5"/><circle cx="330.25" cy="184.71" r="1.5"/><circle cx="332.13" cy="184.71" r="1.5"/><circle cx="333.44" cy="185.08" r="1.5"/><circle cx="334.94" cy="180.02" r="1.5"/><circle cx="339.63" cy="182.27" r="1.5"/><circle cx="341.51" cy="185.27" r="1.5"/></g>
<line x1="241.5" y1="161.3" x2="241.5" y2="189.1" stroke="#4a4a4a" stroke-width="1.25"/>
<line x1="241" y1="188.5" x2="344.1" y2="188.5" stroke="#555" stroke-width="1.2"/>
<text x="235.6" y="168.8" text-anchor="end" font-family="Liberation Serif" font-size="4.3" fill="#111" stroke="#111" stroke-width="0.2">7.5</text>
<text x="235.6" y="175.9" text-anchor="end" font-family="Liberation Serif" font-size="4.3" fill="#111" stroke="#111" stroke-width="0.2">5.0</text>
<text x="235.6" y="183.4" text-anchor="end" font-family="Liberation Serif" font-size="4.3" fill="#111" stroke="#111" stroke-width="0.2">2.5</text>
<line x1="238.3" y1="167.5" x2="241.5" y2="167.5" stroke="#4a4a4a" stroke-width="1"/>
<line x1="238.3" y1="174.5" x2="241.5" y2="174.5" stroke="#4a4a4a" stroke-width="1"/>
<line x1="238.3" y1="181.5" x2="241.5" y2="181.5" stroke="#4a4a4a" stroke-width="1"/>
<g stroke="#e4e4e4" stroke-width="0.8" stroke-dasharray="2 0.6"><line x1="244.3" y1="194.2" x2="244.3" y2="221.5"/><line x1="255.9" y1="194.2" x2="255.9" y2="221.5"/><line x1="267.1" y1="194.2" x2="267.1" y2="221.5"/><line x1="277.8" y1="194.2" x2="277.8" y2="221.5"/><line x1="294.1" y1="194.2" x2="294.1" y2="221.5"/><line x1="304.7" y1="194.2" x2="304.7" y2="221.5"/><line x1="315.9" y1="194.2" x2="315.9" y2="221.5"/><line x1="326.6" y1="194.2" x2="326.6" y2="221.5"/><line x1="342.9" y1="194.2" x2="342.9" y2="221.5"/><line x1="241.5" y1="201.4" x2="344.1" y2="201.4"/><line x1="241.5" y1="213.2" x2="344.1" y2="213.2"/></g>
<g fill="#ff7f0e" stroke="#fff" stroke-width="0.25" stroke-opacity="0.7"><circle cx="244.32" cy="197.63" r="1.5"/><circle cx="245.82" cy="200.07" r="1.5"/><circle cx="250.51" cy="198" r="1.5"/><circle cx="252.02" cy="208.89" r="1.5"/><circle cx="253.33" cy="211.7" r="1.5"/><circle cx="254.64" cy="213.01" r="1.5"/><circle cx="255.77" cy="214.51" r="1.5"/><circle cx="257.08" cy="217.89" r="1.5"/><circle cx="261.77" cy="217.33" r="1.5"/><circle cx="263.27" cy="213.01" r="1.5"/><circle cx="264.96" cy="209.26" r="1.5"/><circle cx="266.46" cy="208.89" r="1.5"/><circle cx="267.96" cy="215.08" r="1.5"/><circle cx="272.47" cy="211.32" r="1.5"/><circle cx="273.97" cy="211.14" r="1.5"/><circle cx="276.22" cy="207.01" r="1.5"/><circle cx="277.72" cy="204.76" r="1.5"/><circle cx="279.59" cy="203.82" r="1.5"/><circle cx="285.22" cy="202.32" r="1.5"/><circle cx="287.1" cy="203.63" r="1.5"/><circle cx="288.41" cy="207.01" r="1.5"/><circle cx="290.48" cy="205.51" r="1.5"/><circle cx="296.48" cy="204.76" r="1.5"/><circle cx="297.79" cy="211.7" r="1.5"/><circle cx="299.86" cy="215.08" r="1.5"/><circle cx="301.55" cy="211.14" r="1.5"/><circle cx="305.86" cy="209.82" r="1.5"/><circle cx="307.74" cy="210.39" r="1.5"/><circle cx="309.61" cy="207.57" r="1.5"/><circle cx="311.11" cy="203.63" r="1.5"/><circle cx="312.8" cy="203.26" r="1.5"/><circle cx="318.99" cy="199.5" r="1.5"/><circle cx="320.31" cy="198" r="1.5"/><circle cx="321.81" cy="201.01" r="1.5"/><circle cx="323.68" cy="199.5" r="1.5"/><circle cx="328.38" cy="197.07" r="1.5"/><circle cx="330.25" cy="197.63" r="1.5"/><circle cx="331.56" cy="200.44" r="1.5"/><circle cx="333.44" cy="197.25" r="1.5"/><circle cx="334.94" cy="197.25" r="1.5"/><circle cx="339.63" cy="204.76" r="1.5"/><circle cx="341.51" cy="206.63" r="1.5"/></g>
<line x1="241.5" y1="194.2" x2="241.5" y2="222.1" stroke="#4a4a4a" stroke-width="1.25"/>
<line x1="241" y1="221.5" x2="344.1" y2="221.5" stroke="#555" stroke-width="1.2"/>
<text x="235.6" y="202.9" text-anchor="end" font-family="Liberation Serif" font-size="4.3" fill="#111" stroke="#111" stroke-width="0.2">70</text>
<text x="235.6" y="214.7" text-anchor="end" font-family="Liberation Serif" font-size="4.3" fill="#111" stroke="#111" stroke-width="0.2">65</text>
<line x1="238.3" y1="201.5" x2="241.5" y2="201.5" stroke="#4a4a4a" stroke-width="1"/>
<line x1="238.3" y1="213.5" x2="241.5" y2="213.5" stroke="#4a4a4a" stroke-width="1"/>
<g stroke="#e4e4e4" stroke-width="0.8" stroke-dasharray="2 0.6"><line x1="244.3" y1="226.9" x2="244.3" y2="253.5"/><line x1="255.9" y1="226.9" x2="255.9" y2="253.5"/><line x1="267.1" y1="226.9" x2="267.1" y2="253.5"/><line x1="277.8" y1="226.9" x2="277.8" y2="253.5"/><line x1="294.1" y1="226.9" x2="294.1" y2="253.5"/><line x1="304.7" y1="226.9" x2="304.7" y2="253.5"/><line x1="315.9" y1="226.9" x2="315.9" y2="253.5"/><line x1="326.6" y1="226.9" x2="326.6" y2="253.5"/><line x1="342.9" y1="226.9" x2="342.9" y2="253.5"/><line x1="241.5" y1="235.2" x2="344.1" y2="235.2"/><line x1="241.5" y1="247.5" x2="344.1" y2="247.5"/></g>
<g fill="#2ca02c" stroke="#fff" stroke-width="0.25" stroke-opacity="0.7"><circle cx="243.95" cy="229.9" r="1.5"/><circle cx="245.82" cy="232.34" r="1.5"/><circle cx="250.51" cy="230.84" r="1.5"/><circle cx="252.02" cy="241.72" r="1.5"/><circle cx="253.33" cy="245.47" r="1.5"/><circle cx="254.64" cy="247.91" r="1.5"/><circle cx="256.14" cy="249.6" r="1.5"/><circle cx="257.08" cy="251.1" r="1.5"/><circle cx="261.77" cy="248.29" r="1.5"/><circle cx="263.27" cy="244.16" r="1.5"/><circle cx="264.96" cy="241.16" r="1.5"/><circle cx="266.46" cy="242.66" r="1.5"/><circle cx="267.96" cy="245.47" r="1.5"/><circle cx="272.47" cy="244.16" r="1.5"/><circle cx="273.97" cy="243.59" r="1.5"/><circle cx="276.22" cy="239.84" r="1.5"/><circle cx="277.72" cy="238.34" r="1.5"/><circle cx="279.22" cy="236.47" r="1.5"/><circle cx="285.22" cy="233.65" r="1.5"/><circle cx="287.1" cy="237.4" r="1.5"/><circle cx="288.41" cy="238.9" r="1.5"/><circle cx="290.48" cy="234.59" r="1.5"/><circle cx="296.86" cy="236.47" r="1.5"/><circle cx="298.36" cy="246.41" r="1.5"/><circle cx="299.86" cy="246.41" r="1.5"/><circle cx="301.55" cy="245.47" r="1.5"/><circle cx="305.86" cy="241.72" r="1.5"/><circle cx="307.74" cy="243.59" r="1.5"/><circle cx="309.61" cy="239.84" r="1.5"/><circle cx="311.11" cy="237.03" r="1.5"/><circle cx="312.8" cy="235.15" r="1.5"/><circle cx="318.99" cy="232.34" r="1.5"/><circle cx="320.31" cy="230.46" r="1.5"/><circle cx="321.81" cy="232.34" r="1.5"/><circle cx="323.68" cy="231.4" r="1.5"/><circle cx="328.38" cy="229.52" r="1.5"/><circle cx="330.25" cy="231.4" r="1.5"/><circle cx="331.56" cy="232.34" r="1.5"/><circle cx="333.44" cy="231.02" r="1.5"/><circle cx="334.94" cy="231.02" r="1.5"/><circle cx="339.63" cy="236.09" r="1.5"/><circle cx="341.51" cy="237.03" r="1.5"/></g>
<line x1="241.5" y1="226.9" x2="241.5" y2="254.1" stroke="#4a4a4a" stroke-width="1.25"/>
<line x1="241" y1="253.5" x2="344.1" y2="253.5" stroke="#555" stroke-width="1.2"/>
<text x="235.6" y="236.7" text-anchor="end" font-family="Liberation Serif" font-size="4.3" fill="#111" stroke="#111" stroke-width="0.2">70</text>
<text x="235.6" y="249" text-anchor="end" font-family="Liberation Serif" font-size="4.3" fill="#111" stroke="#111" stroke-width="0.2">65</text>
<line x1="238.3" y1="235.5" x2="241.5" y2="235.5" stroke="#4a4a4a" stroke-width="1"/>
<line x1="238.3" y1="247.5" x2="241.5" y2="247.5" stroke="#4a4a4a" stroke-width="1"/>
<line x1="244.5" y1="253.5" x2="244.5" y2="256.7" stroke="#4a4a4a" stroke-width="1"/>
<text transform="translate(244 267.5) rotate(-45)" x="0" y="1.5" text-anchor="middle" font-family="Liberation Serif" font-size="4.3" fill="#111" stroke="#111" stroke-width="0.2">2022-12-01</text>
<line x1="255.5" y1="253.5" x2="255.5" y2="256.7" stroke="#4a4a4a" stroke-width="1"/>
<text transform="translate(255.6 267.5) rotate(-45)" x="0" y="1.5" text-anchor="middle" font-family="Liberation Serif" font-size="4.3" fill="#111" stroke="#111" stroke-width="0.2">2022-12-08</text>
<line x1="267.5" y1="253.5" x2="267.5" y2="256.7" stroke="#4a4a4a" stroke-width="1"/>
<text transform="translate(266.8 267.5) rotate(-45)" x="0" y="1.5" text-anchor="middle" font-family="Liberation Serif" font-size="4.3" fill="#111" stroke="#111" stroke-width="0.2">2022-12-15</text>
<line x1="277.5" y1="253.5" x2="277.5" y2="256.7" stroke="#4a4a4a" stroke-width="1"/>
<text transform="translate(277.5 267.5) rotate(-45)" x="0" y="1.5" text-anchor="middle" font-family="Liberation Serif" font-size="4.3" fill="#111" stroke="#111" stroke-width="0.2">2022-12-22</text>
<line x1="294.5" y1="253.5" x2="294.5" y2="256.7" stroke="#4a4a4a" stroke-width="1"/>
<text transform="translate(293.8 267.5) rotate(-45)" x="0" y="1.5" text-anchor="middle" font-family="Liberation Serif" font-size="4.3" fill="#111" stroke="#111" stroke-width="0.2">2023-01-01</text>
<line x1="304.5" y1="253.5" x2="304.5" y2="256.7" stroke="#4a4a4a" stroke-width="1"/>
<text transform="translate(304.4 267.5) rotate(-45)" x="0" y="1.5" text-anchor="middle" font-family="Liberation Serif" font-size="4.3" fill="#111" stroke="#111" stroke-width="0.2">2023-01-08</text>
<line x1="315.5" y1="253.5" x2="315.5" y2="256.7" stroke="#4a4a4a" stroke-width="1"/>
<text transform="translate(315.6 267.5) rotate(-45)" x="0" y="1.5" text-anchor="middle" font-family="Liberation Serif" font-size="4.3" fill="#111" stroke="#111" stroke-width="0.2">2023-01-15</text>
<line x1="326.5" y1="253.5" x2="326.5" y2="256.7" stroke="#4a4a4a" stroke-width="1"/>
<text transform="translate(326.3 267.5) rotate(-45)" x="0" y="1.5" text-anchor="middle" font-family="Liberation Serif" font-size="4.3" fill="#111" stroke="#111" stroke-width="0.2">2023-01-22</text>
<line x1="342.5" y1="253.5" x2="342.5" y2="256.7" stroke="#4a4a4a" stroke-width="1"/>
<text transform="translate(342.6 267.5) rotate(-45)" x="0" y="1.5" text-anchor="middle" font-family="Liberation Serif" font-size="4.3" fill="#111" stroke="#111" stroke-width="0.2">2023-02-01</text>
<text x="242" y="158.7" text-anchor="start" font-family="Liberation Serif" font-size="4.3" fill="#111" stroke="#111" stroke-width="0.2">1e6</text>
<text x="436.8" y="156.3" text-anchor="middle" font-family="Liberation Serif" font-size="10" fill="#111" stroke="#111" stroke-width="0.3" textLength="56.2" lengthAdjust="spacingAndGlyphs">ClusterTrace</text>
<g stroke="#e4e4e4" stroke-width="0.8" stroke-dasharray="2 0.6"><line x1="387.8" y1="161.3" x2="387.8" y2="188.5"/><line x1="400.3" y1="161.3" x2="400.3" y2="188.5"/><line x1="412.5" y1="161.3" x2="412.5" y2="188.5"/><line x1="424.7" y1="161.3" x2="424.7" y2="188.5"/><line x1="437.3" y1="161.3" x2="437.3" y2="188.5"/><line x1="449.7" y1="161.3" x2="449.7" y2="188.5"/><line x1="461.7" y1="161.3" x2="461.7" y2="188.5"/><line x1="474.4" y1="161.3" x2="474.4" y2="188.5"/><line x1="486.6" y1="161.3" x2="486.6" y2="188.5"/><line x1="385.5" y1="164.1" x2="488.1" y2="164.1"/><line x1="385.5" y1="177.8" x2="488.1" y2="177.8"/></g>
<g fill="#1f77b4" stroke="#fff" stroke-width="0.25" stroke-opacity="0.7"><circle cx="388.34" cy="172.06" r="1.5"/><circle cx="388.34" cy="173.75" r="1.5"/><circle cx="388.34" cy="175.43" r="1.5"/><circle cx="388.34" cy="177.12" r="1.5"/><circle cx="388.34" cy="178.81" r="1.5"/><circle cx="388.34" cy="180.49" r="1.5"/><circle cx="388.34" cy="182.18" r="1.5"/><circle cx="388.34" cy="183.87" r="1.5"/><circle cx="388.34" cy="185.55" r="1.5"/><circle cx="394.72" cy="169.72" r="1.5"/><circle cx="395.65" cy="167.37" r="1.5"/><circle cx="397.06" cy="164.56" r="1.5"/><circle cx="398" cy="167.37" r="1.5"/><circle cx="399.4" cy="168.31" r="1.5"/><circle cx="400.81" cy="167.84" r="1.5"/><circle cx="401.74" cy="172.06" r="1.5"/><circle cx="402.68" cy="168.31" r="1.5"/><circle cx="403.62" cy="167.37" r="1.5"/><circle cx="404.56" cy="167.37" r="1.5"/><circle cx="405.96" cy="167.37" r="1.5"/><circle cx="395.18" cy="166.9" r="1.5"/><circle cx="396.59" cy="165.97" r="1.5"/><circle cx="401.74" cy="170.18" r="1.5"/><circle cx="403.15" cy="169.72" r="1.5"/><circle cx="405.96" cy="167.37" r="1.5"/><circle cx="405.96" cy="168.97" r="1.5"/><circle cx="405.96" cy="170.56" r="1.5"/><circle cx="405.96" cy="172.15" r="1.5"/><circle cx="405.96" cy="173.75" r="1.5"/><circle cx="405.96" cy="175.34" r="1.5"/><circle cx="405.96" cy="176.93" r="1.5"/><circle cx="405.96" cy="178.52" r="1.5"/><circle cx="405.96" cy="180.12" r="1.5"/><circle cx="405.96" cy="181.71" r="1.5"/><circle cx="405.96" cy="183.3" r="1.5"/><circle cx="410.07" cy="180.53" r="1.5"/><circle cx="414.32" cy="179.85" r="1.5"/><circle cx="410.57" cy="180.73" r="1.5"/><circle cx="407.66" cy="180.19" r="1.5"/><circle cx="411.67" cy="182.21" r="1.5"/><circle cx="406.85" cy="178.68" r="1.5"/><circle cx="406.82" cy="182.33" r="1.5"/><circle cx="412.24" cy="176.8" r="1.5"/><circle cx="414.84" cy="183.45" r="1.5"/><circle cx="411.89" cy="180.93" r="1.5"/><circle cx="407.42" cy="176.61" r="1.5"/><circle cx="410.76" cy="176.93" r="1.5"/><circle cx="407.71" cy="178.24" r="1.5"/><circle cx="406.27" cy="179.84" r="1.5"/><circle cx="409.96" cy="182.57" r="1.5"/><circle cx="410.67" cy="181.11" r="1.5"/><circle cx="410.5" cy="181.27" r="1.5"/><circle cx="410.12" cy="178.5" r="1.5"/><circle cx="414.98" cy="183.67" r="1.5"/><circle cx="413.56" cy="181.6" r="1.5"/><circle cx="408.84" cy="178.15" r="1.5"/><circle cx="408.6" cy="177.01" r="1.5"/><circle cx="412.9" cy="179.38" r="1.5"/><circle cx="413.62" cy="179.28" r="1.5"/><circle cx="414.62" cy="182.6" r="1.5"/><circle cx="406" cy="178.01" r="1.5"/><circle cx="414.19" cy="179.88" r="1.5"/><circle cx="414.82" cy="179.36" r="1.5"/><circle cx="406.66" cy="181.03" r="1.5"/><circle cx="413.01" cy="178.44" r="1.5"/><circle cx="406.78" cy="178.89" r="1.5"/><circle cx="414.68" cy="181.96" r="1.5"/><circle cx="407.06" cy="178.27" r="1.5"/><circle cx="406.91" cy="176.93" r="1.5"/><circle cx="413.17" cy="177.78" r="1.5"/><circle cx="411.03" cy="179.72" r="1.5"/><circle cx="407.72" cy="181.77" r="1.5"/><circle cx="407.18" cy="181.13" r="1.5"/><circle cx="407.05" cy="179.53" r="1.5"/><circle cx="407.92" cy="178.44" r="1.5"/><circle cx="414.74" cy="182.28" r="1.5"/><circle cx="408.74" cy="182.87" r="1.5"/><circle cx="417.53" cy="178.67" r="1.5"/><circle cx="425.25" cy="180.03" r="1.5"/><circle cx="416.2" cy="181.94" r="1.5"/><circle cx="417.56" cy="177.92" r="1.5"/><circle cx="424.27" cy="178.31" r="1.5"/><circle cx="418.56" cy="176.9" r="1.5"/><circle cx="416.08" cy="179.71" r="1.5"/><circle cx="417.92" cy="179.81" r="1.5"/><circle cx="419.46" cy="178.99" r="1.5"/><circle cx="426.51" cy="179.16" r="1.5"/><circle cx="421.89" cy="181.27" r="1.5"/><circle cx="417.19" cy="177.35" r="1.5"/><circle cx="425.9" cy="181" r="1.5"/><circle cx="417.99" cy="177.54" r="1.5"/><circle cx="423.87" cy="181.67" r="1.5"/><circle cx="417.36" cy="181.73" r="1.5"/><circle cx="425.59" cy="179.82" r="1.5"/><circle cx="420.06" cy="177.07" r="1.5"/><circle cx="415.46" cy="181.79" r="1.5"/><circle cx="417.86" cy="180.38" r="1.5"/><circle cx="418.08" cy="181.03" r="1.5"/><circle cx="422.16" cy="178.11" r="1.5"/><circle cx="414.87" cy="179.56" r="1.5"/><circle cx="416.74" cy="178.15" r="1.5"/><circle cx="418.15" cy="180.49" r="1.5"/><circle cx="419.55" cy="178.15" r="1.5"/><circle cx="420.49" cy="183.3" r="1.5"/><circle cx="421.43" cy="179.56" r="1.5"/><circle cx="422.83" cy="178.15" r="1.5"/><circle cx="424.24" cy="180.49" r="1.5"/><circle cx="425.64" cy="177.68" r="1.5"/><circle cx="427.05" cy="180.02" r="1.5"/><circle cx="428.92" cy="180.31" r="1.5"/><circle cx="437.83" cy="176.28" r="1.5"/><circle cx="438.3" cy="178.15" r="1.5"/><circle cx="438.76" cy="180.49" r="1.5"/><circle cx="437.83" cy="179.09" r="1.5"/><circle cx="443.82" cy="174.48" r="1.5"/><circle cx="442.99" cy="173.28" r="1.5"/><circle cx="445.22" cy="178.82" r="1.5"/><circle cx="440.99" cy="179.44" r="1.5"/><circle cx="438.83" cy="182.87" r="1.5"/><circle cx="443.14" cy="172.69" r="1.5"/><circle cx="440.48" cy="177.54" r="1.5"/><circle cx="443.05" cy="174.49" r="1.5"/><circle cx="440.11" cy="178.97" r="1.5"/><circle cx="444.83" cy="176.59" r="1.5"/><circle cx="444.05" cy="183.58" r="1.5"/><circle cx="443.29" cy="180.31" r="1.5"/><circle cx="442.52" cy="174.09" r="1.5"/><circle cx="444.34" cy="172.7" r="1.5"/><circle cx="446.6" cy="180.42" r="1.5"/><circle cx="443.82" cy="172.74" r="1.5"/><circle cx="444.27" cy="177.95" r="1.5"/><circle cx="445.11" cy="176.1" r="1.5"/><circle cx="443.57" cy="173.35" r="1.5"/><circle cx="446.18" cy="180.83" r="1.5"/><circle cx="444.37" cy="180.83" r="1.5"/><circle cx="446.53" cy="181.46" r="1.5"/><circle cx="443.89" cy="176.48" r="1.5"/><circle cx="446.43" cy="182.68" r="1.5"/><circle cx="444.49" cy="177.21" r="1.5"/><circle cx="443.09" cy="182.26" r="1.5"/><circle cx="441.74" cy="179.56" r="1.5"/><circle cx="443.52" cy="179.08" r="1.5"/><circle cx="443.74" cy="173.41" r="1.5"/><circle cx="446.83" cy="183.72" r="1.5"/><circle cx="441.49" cy="180.73" r="1.5"/><circle cx="443.24" cy="180.81" r="1.5"/><circle cx="444.8" cy="177.48" r="1.5"/><circle cx="443.94" cy="173.45" r="1.5"/><circle cx="443.75" cy="172.84" r="1.5"/><circle cx="441.26" cy="177.93" r="1.5"/><circle cx="442.53" cy="180.39" r="1.5"/><circle cx="445.91" cy="179.44" r="1.5"/><circle cx="441.65" cy="175.39" r="1.5"/><circle cx="443.82" cy="175.9" r="1.5"/><circle cx="442.46" cy="174.79" r="1.5"/><circle cx="444.05" cy="182.73" r="1.5"/><circle cx="445.1" cy="177.49" r="1.5"/><circle cx="443.79" cy="176.19" r="1.5"/><circle cx="443.13" cy="174.74" r="1.5"/><circle cx="443.59" cy="172.06" r="1.5"/><circle cx="443.12" cy="174.4" r="1.5"/><circle cx="442.18" cy="175.81" r="1.5"/><circle cx="444.06" cy="176.74" r="1.5"/><circle cx="441.25" cy="174.87" r="1.5"/><circle cx="437.03" cy="177.68" r="1.5"/><circle cx="437.5" cy="180.02" r="1.5"/><circle cx="438.9" cy="178.15" r="1.5"/><circle cx="458.12" cy="182.84" r="1.5"/><circle cx="459.99" cy="182.84" r="1.5"/><circle cx="461.87" cy="182.84" r="1.5"/><circle cx="458.12" cy="185.65" r="1.5"/><circle cx="459.99" cy="184.24" r="1.5"/><circle cx="461.87" cy="185.65" r="1.5"/><circle cx="469.83" cy="182.84" r="1.5"/><circle cx="469.83" cy="185.65" r="1.5"/><circle cx="473.58" cy="182.84" r="1.5"/><circle cx="477.8" cy="172.06" r="1.5"/><circle cx="477.8" cy="173.56" r="1.5"/><circle cx="477.8" cy="175.06" r="1.5"/><circle cx="477.8" cy="176.56" r="1.5"/><circle cx="477.8" cy="178.06" r="1.5"/><circle cx="477.8" cy="179.56" r="1.5"/><circle cx="477.8" cy="181.06" r="1.5"/><circle cx="477.8" cy="182.55" r="1.5"/><circle cx="477.8" cy="184.05" r="1.5"/><circle cx="478.73" cy="182.37" r="1.5"/><circle cx="479.67" cy="184.24" r="1.5"/><circle cx="480.61" cy="185.18" r="1.5"/><circle cx="483.89" cy="180.49" r="1.5"/><circle cx="484.36" cy="182.84" r="1.5"/><circle cx="484.83" cy="185.18" r="1.5"/><circle cx="485.76" cy="180.02" r="1.5"/><circle cx="486.23" cy="182.37" r="1.5"/><circle cx="483.42" cy="183.3" r="1.5"/></g>
<line x1="385.5" y1="161.3" x2="385.5" y2="189.1" stroke="#4a4a4a" stroke-width="1.25"/>
<line x1="385" y1="188.5" x2="488.1" y2="188.5" stroke="#555" stroke-width="1.2"/>
<text x="379.6" y="165.6" text-anchor="end" font-family="Liberation Serif" font-size="4.3" fill="#111" stroke="#111" stroke-width="0.2">10</text>
<text x="379.6" y="179.3" text-anchor="end" font-family="Liberation Serif" font-size="4.3" fill="#111" stroke="#111" stroke-width="0.2">5</text>
<line x1="382.3" y1="164.5" x2="385.5" y2="164.5" stroke="#4a4a4a" stroke-width="1"/>
<line x1="382.3" y1="177.5" x2="385.5" y2="177.5" stroke="#4a4a4a" stroke-width="1"/>
<g stroke="#e4e4e4" stroke-width="0.8" stroke-dasharray="2 0.6"><line x1="387.8" y1="194.2" x2="387.8" y2="221.5"/><line x1="400.3" y1="194.2" x2="400.3" y2="221.5"/><line x1="412.5" y1="194.2" x2="412.5" y2="221.5"/><line x1="424.7" y1="194.2" x2="424.7" y2="221.5"/><line x1="437.3" y1="194.2" x2="437.3" y2="221.5"/><line x1="449.7" y1="194.2" x2="449.7" y2="221.5"/><line x1="461.7" y1="194.2" x2="461.7" y2="221.5"/><line x1="474.4" y1="194.2" x2="474.4" y2="221.5"/><line x1="486.6" y1="194.2" x2="486.6" y2="221.5"/><line x1="385.5" y1="195.4" x2="488.1" y2="195.4"/><line x1="385.5" y1="205.5" x2="488.1" y2="205.5"/><line x1="385.5" y1="216" x2="488.1" y2="216"/></g>
<g fill="#ff7f0e" stroke="#fff" stroke-width="0.25" stroke-opacity="0.7"><circle cx="388.2" cy="214.14" r="1.5"/><circle cx="388.2" cy="217.89" r="1.5"/><circle cx="397.2" cy="201.38" r="1.5"/><circle cx="395.33" cy="205.51" r="1.5"/><circle cx="397.2" cy="205.51" r="1.5"/><circle cx="399.08" cy="205.51" r="1.5"/><circle cx="395.33" cy="209.82" r="1.5"/><circle cx="397.2" cy="209.82" r="1.5"/><circle cx="399.08" cy="209.82" r="1.5"/><circle cx="400.96" cy="214.14" r="1.5"/><circle cx="403.4" cy="205.51" r="1.5"/><circle cx="404.71" cy="205.51" r="1.5"/><circle cx="409.4" cy="205.51" r="1.5"/><circle cx="410.9" cy="205.51" r="1.5"/><circle cx="412.21" cy="205.51" r="1.5"/><circle cx="413.53" cy="205.51" r="1.5"/><circle cx="414.65" cy="205.51" r="1.5"/><circle cx="418.41" cy="205.51" r="1.5"/><circle cx="422.16" cy="205.51" r="1.5"/><circle cx="423.47" cy="205.51" r="1.5"/><circle cx="426.29" cy="205.51" r="1.5"/><circle cx="401.89" cy="209.82" r="1.5"/><circle cx="403.4" cy="209.82" r="1.5"/><circle cx="404.9" cy="209.82" r="1.5"/><circle cx="406.4" cy="209.82" r="1.5"/><circle cx="407.9" cy="209.82" r="1.5"/><circle cx="409.4" cy="209.82" r="1.5"/><circle cx="410.9" cy="209.82" r="1.5"/><circle cx="412.4" cy="209.82" r="1.5"/><circle cx="413.9" cy="209.82" r="1.5"/><circle cx="415.4" cy="209.82" r="1.5"/><circle cx="416.9" cy="209.82" r="1.5"/><circle cx="418.41" cy="209.82" r="1.5"/><circle cx="419.91" cy="209.82" r="1.5"/><circle cx="421.41" cy="209.82" r="1.5"/><circle cx="422.91" cy="209.82" r="1.5"/><circle cx="424.41" cy="209.82" r="1.5"/><circle cx="426.29" cy="209.82" r="1.5"/><circle cx="406.59" cy="214.14" r="1.5"/><circle cx="407.52" cy="214.14" r="1.5"/><circle cx="408.46" cy="214.14" r="1.5"/><circle cx="412.21" cy="214.14" r="1.5"/><circle cx="420.66" cy="214.14" r="1.5"/><circle cx="429.66" cy="209.82" r="1.5"/><circle cx="443.55" cy="197.07" r="1.5"/><circle cx="441.29" cy="201.38" r="1.5"/><circle cx="443.55" cy="201.38" r="1.5"/><circle cx="437.17" cy="205.51" r="1.5"/><circle cx="438.48" cy="205.51" r="1.5"/><circle cx="441.29" cy="205.51" r="1.5"/><circle cx="443.55" cy="205.51" r="1.5"/><circle cx="445.05" cy="205.51" r="1.5"/><circle cx="437.54" cy="209.82" r="1.5"/><circle cx="441.67" cy="209.82" r="1.5"/><circle cx="443.55" cy="209.82" r="1.5"/><circle cx="445.98" cy="209.82" r="1.5"/><circle cx="447.86" cy="209.82" r="1.5"/><circle cx="443.55" cy="214.14" r="1.5"/><circle cx="445.98" cy="214.14" r="1.5"/><circle cx="447.86" cy="214.14" r="1.5"/><circle cx="458.18" cy="214.14" r="1.5"/><circle cx="461.93" cy="214.14" r="1.5"/><circle cx="458.18" cy="217.89" r="1.5"/><circle cx="461.93" cy="217.89" r="1.5"/><circle cx="470" cy="214.14" r="1.5"/><circle cx="474.13" cy="214.14" r="1.5"/><circle cx="470.38" cy="217.89" r="1.5"/><circle cx="477.88" cy="197.07" r="1.5"/><circle cx="477.88" cy="201.38" r="1.5"/><circle cx="477.88" cy="205.51" r="1.5"/><circle cx="479.76" cy="205.51" r="1.5"/><circle cx="477.88" cy="209.82" r="1.5"/><circle cx="479.76" cy="209.82" r="1.5"/><circle cx="479.76" cy="214.14" r="1.5"/><circle cx="479.76" cy="217.89" r="1.5"/><circle cx="483.51" cy="214.14" r="1.5"/><circle cx="482.57" cy="214.14" r="1.5"/><circle cx="484.82" cy="209.82" r="1.5"/><circle cx="484.82" cy="217.89" r="1.5"/><circle cx="482.57" cy="217.89" r="1.5"/></g>
<line x1="385.5" y1="194.2" x2="385.5" y2="222.1" stroke="#4a4a4a" stroke-width="1.25"/>
<line x1="385" y1="221.5" x2="488.1" y2="221.5" stroke="#555" stroke-width="1.2"/>
<text x="379.6" y="196.9" text-anchor="end" font-family="Liberation Serif" font-size="4.3" fill="#111" stroke="#111" stroke-width="0.2">7.5</text>
<text x="379.6" y="207" text-anchor="end" font-family="Liberation Serif" font-size="4.3" fill="#111" stroke="#111" stroke-width="0.2">5.0</text>
<text x="379.6" y="217.5" text-anchor="end" font-family="Liberation Serif" font-size="4.3" fill="#111" stroke="#111" stroke-width="0.2">2.5</text>
<line x1="382.3" y1="195.5" x2="385.5" y2="195.5" stroke="#4a4a4a" stroke-width="1"/>
<line x1="382.3" y1="205.5" x2="385.5" y2="205.5" stroke="#4a4a4a" stroke-width="1"/>
<line x1="382.3" y1="216.5" x2="385.5" y2="216.5" stroke="#4a4a4a" stroke-width="1"/>
<g stroke="#e4e4e4" stroke-width="0.8" stroke-dasharray="2 0.6"><line x1="387.8" y1="226.9" x2="387.8" y2="253.5"/><line x1="400.3" y1="226.9" x2="400.3" y2="253.5"/><line x1="412.5" y1="226.9" x2="412.5" y2="253.5"/><line x1="424.7" y1="226.9" x2="424.7" y2="253.5"/><line x1="437.3" y1="226.9" x2="437.3" y2="253.5"/><line x1="449.7" y1="226.9" x2="449.7" y2="253.5"/><line x1="461.7" y1="226.9" x2="461.7" y2="253.5"/><line x1="474.4" y1="226.9" x2="474.4" y2="253.5"/><line x1="486.6" y1="226.9" x2="486.6" y2="253.5"/><line x1="385.5" y1="227.6" x2="488.1" y2="227.6"/><line x1="385.5" y1="238" x2="488.1" y2="238"/><line x1="385.5" y1="248.3" x2="488.1" y2="248.3"/></g>
<g fill="#2ca02c" stroke="#fff" stroke-width="0.25" stroke-opacity="0.7"><circle cx="388.2" cy="246.41" r="1.5"/><circle cx="388.2" cy="250.54" r="1.5"/><circle cx="397.2" cy="233.84" r="1.5"/><circle cx="395.33" cy="237.97" r="1.5"/><circle cx="397.2" cy="237.97" r="1.5"/><circle cx="399.08" cy="237.97" r="1.5"/><circle cx="395.33" cy="242.28" r="1.5"/><circle cx="397.2" cy="242.28" r="1.5"/><circle cx="399.08" cy="242.28" r="1.5"/><circle cx="400.96" cy="246.41" r="1.5"/><circle cx="403.4" cy="237.97" r="1.5"/><circle cx="404.71" cy="237.97" r="1.5"/><circle cx="409.4" cy="237.97" r="1.5"/><circle cx="410.9" cy="237.97" r="1.5"/><circle cx="412.21" cy="237.97" r="1.5"/><circle cx="413.53" cy="237.97" r="1.5"/><circle cx="414.65" cy="237.97" r="1.5"/><circle cx="418.41" cy="237.97" r="1.5"/><circle cx="422.16" cy="237.97" r="1.5"/><circle cx="423.47" cy="237.97" r="1.5"/><circle cx="426.29" cy="237.97" r="1.5"/><circle cx="401.89" cy="242.28" r="1.5"/><circle cx="403.4" cy="242.28" r="1.5"/><circle cx="404.9" cy="242.28" r="1.5"/><circle cx="406.4" cy="242.28" r="1.5"/><circle cx="407.9" cy="242.28" r="1.5"/><circle cx="409.4" cy="242.28" r="1.5"/><circle cx="410.9" cy="242.28" r="1.5"/><circle cx="412.4" cy="242.28" r="1.5"/><circle cx="413.9" cy="242.28" r="1.5"/><circle cx="415.4" cy="242.28" r="1.5"/><circle cx="416.9" cy="242.28" r="1.5"/><circle cx="418.41" cy="242.28" r="1.5"/><circle cx="419.91" cy="242.28" r="1.5"/><circle cx="421.41" cy="242.28" r="1.5"/><circle cx="422.91" cy="242.28" r="1.5"/><circle cx="424.41" cy="242.28" r="1.5"/><circle cx="426.29" cy="242.28" r="1.5"/><circle cx="406.59" cy="246.41" r="1.5"/><circle cx="407.52" cy="246.41" r="1.5"/><circle cx="408.46" cy="246.41" r="1.5"/><circle cx="412.21" cy="246.41" r="1.5"/><circle cx="420.66" cy="246.41" r="1.5"/><circle cx="429.66" cy="242.28" r="1.5"/><circle cx="443.55" cy="229.52" r="1.5"/><circle cx="441.29" cy="233.84" r="1.5"/><circle cx="443.55" cy="233.84" r="1.5"/><circle cx="437.17" cy="237.97" r="1.5"/><circle cx="438.48" cy="237.97" r="1.5"/><circle cx="441.29" cy="237.97" r="1.5"/><circle cx="443.55" cy="237.97" r="1.5"/><circle cx="445.05" cy="237.97" r="1.5"/><circle cx="437.54" cy="242.28" r="1.5"/><circle cx="441.67" cy="242.28" r="1.5"/><circle cx="443.55" cy="242.28" r="1.5"/><circle cx="445.98" cy="242.28" r="1.5"/><circle cx="447.86" cy="242.28" r="1.5"/><circle cx="443.55" cy="246.41" r="1.5"/><circle cx="445.98" cy="246.41" r="1.5"/><circle cx="447.86" cy="246.41" r="1.5"/><circle cx="458.18" cy="246.41" r="1.5"/><circle cx="461.93" cy="246.41" r="1.5"/><circle cx="458.18" cy="250.54" r="1.5"/><circle cx="461.93" cy="250.54" r="1.5"/><circle cx="470" cy="246.41" r="1.5"/><circle cx="474.13" cy="246.41" r="1.5"/><circle cx="470.38" cy="250.54" r="1.5"/><circle cx="477.88" cy="229.52" r="1.5"/><circle cx="477.88" cy="233.84" r="1.5"/><circle cx="477.88" cy="237.97" r="1.5"/><circle cx="479.76" cy="237.97" r="1.5"/><circle cx="477.88" cy="242.28" r="1.5"/><circle cx="479.76" cy="242.28" r="1.5"/><circle cx="479.76" cy="246.41" r="1.5"/><circle cx="479.76" cy="250.54" r="1.5"/><circle cx="483.51" cy="246.41" r="1.5"/><circle cx="482.57" cy="246.41" r="1.5"/><circle cx="484.82" cy="242.28" r="1.5"/><circle cx="484.82" cy="250.54" r="1.5"/><circle cx="482.57" cy="250.54" r="1.5"/></g>
<line x1="385.5" y1="226.9" x2="385.5" y2="254.1" stroke="#4a4a4a" stroke-width="1.25"/>
<line x1="385" y1="253.5" x2="488.1" y2="253.5" stroke="#555" stroke-width="1.2"/>
<text x="379.6" y="229.1" text-anchor="end" font-family="Liberation Serif" font-size="4.3" fill="#111" stroke="#111" stroke-width="0.2">7.5</text>
<text x="379.6" y="239.5" text-anchor="end" font-family="Liberation Serif" font-size="4.3" fill="#111" stroke="#111" stroke-width="0.2">5.0</text>
<text x="379.6" y="249.8" text-anchor="end" font-family="Liberation Serif" font-size="4.3" fill="#111" stroke="#111" stroke-width="0.2">2.5</text>
<line x1="382.3" y1="227.5" x2="385.5" y2="227.5" stroke="#4a4a4a" stroke-width="1"/>
<line x1="382.3" y1="238.5" x2="385.5" y2="238.5" stroke="#4a4a4a" stroke-width="1"/>
<line x1="382.3" y1="248.5" x2="385.5" y2="248.5" stroke="#4a4a4a" stroke-width="1"/>
<line x1="387.5" y1="253.5" x2="387.5" y2="256.7" stroke="#4a4a4a" stroke-width="1"/>
<text transform="translate(387.5 267.5) rotate(-45)" x="0" y="1.5" text-anchor="middle" font-family="Liberation Serif" font-size="4.3" fill="#111" stroke="#111" stroke-width="0.2">01-13 00:00</text>
<line x1="400.5" y1="253.5" x2="400.5" y2="256.7" stroke="#4a4a4a" stroke-width="1"/>
<text transform="translate(400 267.5) rotate(-45)" x="0" y="1.5" text-anchor="middle" font-family="Liberation Serif" font-size="4.3" fill="#111" stroke="#111" stroke-width="0.2">01-13 03:00</text>
<line x1="412.5" y1="253.5" x2="412.5" y2="256.7" stroke="#4a4a4a" stroke-width="1"/>
<text transform="translate(412.2 267.5) rotate(-45)" x="0" y="1.5" text-anchor="middle" font-family="Liberation Serif" font-size="4.3" fill="#111" stroke="#111" stroke-width="0.2">01-13 06:00</text>
<line x1="424.5" y1="253.5" x2="424.5" y2="256.7" stroke="#4a4a4a" stroke-width="1"/>
<text transform="translate(424.4 267.5) rotate(-45)" x="0" y="1.5" text-anchor="middle" font-family="Liberation Serif" font-size="4.3" fill="#111" stroke="#111" stroke-width="0.2">01-13 09:00</text>
<line x1="437.5" y1="253.5" x2="437.5" y2="256.7" stroke="#4a4a4a" stroke-width="1"/>
<text transform="translate(437 267.5) rotate(-45)" x="0" y="1.5" text-anchor="middle" font-family="Liberation Serif" font-size="4.3" fill="#111" stroke="#111" stroke-width="0.2">01-13 12:00</text>
<line x1="449.5" y1="253.5" x2="449.5" y2="256.7" stroke="#4a4a4a" stroke-width="1"/>
<text transform="translate(449.4 267.5) rotate(-45)" x="0" y="1.5" text-anchor="middle" font-family="Liberation Serif" font-size="4.3" fill="#111" stroke="#111" stroke-width="0.2">01-13 15:00</text>
<line x1="461.5" y1="253.5" x2="461.5" y2="256.7" stroke="#4a4a4a" stroke-width="1"/>
<text transform="translate(461.4 267.5) rotate(-45)" x="0" y="1.5" text-anchor="middle" font-family="Liberation Serif" font-size="4.3" fill="#111" stroke="#111" stroke-width="0.2">01-13 18:00</text>
<line x1="474.5" y1="253.5" x2="474.5" y2="256.7" stroke="#4a4a4a" stroke-width="1"/>
<text transform="translate(474.1 267.5) rotate(-45)" x="0" y="1.5" text-anchor="middle" font-family="Liberation Serif" font-size="4.3" fill="#111" stroke="#111" stroke-width="0.2">01-13 21:00</text>
<line x1="486.5" y1="253.5" x2="486.5" y2="256.7" stroke="#4a4a4a" stroke-width="1"/>
<text transform="translate(486.3 267.5) rotate(-45)" x="0" y="1.5" text-anchor="middle" font-family="Liberation Serif" font-size="4.3" fill="#111" stroke="#111" stroke-width="0.2">01-14 00:00</text>
<text x="580.8" y="156.3" text-anchor="middle" font-family="Liberation Serif" font-size="10" fill="#111" stroke="#111" stroke-width="0.3" textLength="51" lengthAdjust="spacingAndGlyphs">StudentLife</text>
<g stroke="#e4e4e4" stroke-width="0.8" stroke-dasharray="2 0.6"><line x1="532.4" y1="161.3" x2="532.4" y2="188.5"/><line x1="548.6" y1="161.3" x2="548.6" y2="188.5"/><line x1="564.9" y1="161.3" x2="564.9" y2="188.5"/><line x1="581.1" y1="161.3" x2="581.1" y2="188.5"/><line x1="597.4" y1="161.3" x2="597.4" y2="188.5"/><line x1="613.7" y1="161.3" x2="613.7" y2="188.5"/><line x1="629.9" y1="161.3" x2="629.9" y2="188.5"/><line x1="529.5" y1="164.4" x2="632.1" y2="164.4"/><line x1="529.5" y1="175" x2="632.1" y2="175"/><line x1="529.5" y1="185.6" x2="632.1" y2="185.6"/></g>
<g fill="#1f77b4" stroke="#fff" stroke-width="0.25" stroke-opacity="0.7"><circle cx="532.4" cy="164.4" r="1.5"/><circle cx="550" cy="183" r="1.5"/><circle cx="553" cy="184.4" r="1.5"/><circle cx="568.4" cy="185.4" r="1.5"/><circle cx="591.4" cy="184.4" r="1.5"/><circle cx="628.4" cy="170" r="1.5"/></g>
<line x1="529.5" y1="161.3" x2="529.5" y2="189.1" stroke="#4a4a4a" stroke-width="1.25"/>
<line x1="529" y1="188.5" x2="632.1" y2="188.5" stroke="#555" stroke-width="1.2"/>
<text x="523.6" y="165.9" text-anchor="end" font-family="Liberation Serif" font-size="4.3" fill="#111" stroke="#111" stroke-width="0.2">30</text>
<text x="523.6" y="176.5" text-anchor="end" font-family="Liberation Serif" font-size="4.3" fill="#111" stroke="#111" stroke-width="0.2">15</text>
<text x="523.6" y="187.1" text-anchor="end" font-family="Liberation Serif" font-size="4.3" fill="#111" stroke="#111" stroke-width="0.2">0</text>
<line x1="526.3" y1="164.5" x2="529.5" y2="164.5" stroke="#4a4a4a" stroke-width="1"/>
<line x1="526.3" y1="175.5" x2="529.5" y2="175.5" stroke="#4a4a4a" stroke-width="1"/>
<line x1="526.3" y1="185.5" x2="529.5" y2="185.5" stroke="#4a4a4a" stroke-width="1"/>
<g stroke="#e4e4e4" stroke-width="0.8" stroke-dasharray="2 0.6"><line x1="532.4" y1="194.2" x2="532.4" y2="221.5"/><line x1="548.6" y1="194.2" x2="548.6" y2="221.5"/><line x1="564.9" y1="194.2" x2="564.9" y2="221.5"/><line x1="581.1" y1="194.2" x2="581.1" y2="221.5"/><line x1="597.4" y1="194.2" x2="597.4" y2="221.5"/><line x1="613.7" y1="194.2" x2="613.7" y2="221.5"/><line x1="629.9" y1="194.2" x2="629.9" y2="221.5"/><line x1="529.5" y1="196" x2="632.1" y2="196"/><line x1="529.5" y1="207" x2="632.1" y2="207"/><line x1="529.5" y1="218" x2="632.1" y2="218"/></g>
<g fill="#ff7f0e" stroke="#fff" stroke-width="0.25" stroke-opacity="0.7"><circle cx="532" cy="197" r="1.5"/><circle cx="532.6" cy="217.6" r="1.5"/><circle cx="537.4" cy="218" r="1.5"/><circle cx="539" cy="218" r="1.5"/><circle cx="550" cy="202.4" r="1.5"/><circle cx="553" cy="211.4" r="1.5"/><circle cx="553.6" cy="214" r="1.5"/><circle cx="555" cy="217.6" r="1.5"/><circle cx="561.4" cy="217" r="1.5"/><circle cx="566.4" cy="217.6" r="1.5"/><circle cx="568" cy="199" r="1.5"/><circle cx="569" cy="214.4" r="1.5"/><circle cx="570" cy="213" r="1.5"/><circle cx="571" cy="214" r="1.5"/><circle cx="572" cy="211" r="1.5"/><circle cx="573" cy="212" r="1.5"/><circle cx="571.6" cy="215" r="1.5"/><circle cx="573.6" cy="215.6" r="1.5"/><circle cx="574.4" cy="217.6" r="1.5"/><circle cx="575.4" cy="211" r="1.5"/><circle cx="576" cy="202" r="1.5"/><circle cx="583.6" cy="205.4" r="1.5"/><circle cx="588" cy="215.4" r="1.5"/><circle cx="591.4" cy="205.4" r="1.5"/><circle cx="594.4" cy="217.6" r="1.5"/><circle cx="595.4" cy="207" r="1.5"/><circle cx="597" cy="213" r="1.5"/><circle cx="598.4" cy="217" r="1.5"/><circle cx="603.6" cy="217.6" r="1.5"/><circle cx="608" cy="217.6" r="1.5"/><circle cx="609.6" cy="217.6" r="1.5"/><circle cx="610.6" cy="217.6" r="1.5"/><circle cx="615" cy="201.4" r="1.5"/><circle cx="616" cy="216" r="1.5"/><circle cx="617" cy="209" r="1.5"/><circle cx="618" cy="212" r="1.5"/><circle cx="619" cy="211" r="1.5"/><circle cx="620" cy="204" r="1.5"/><circle cx="621" cy="215" r="1.5"/><circle cx="622" cy="208" r="1.5"/><circle cx="623" cy="212" r="1.5"/><circle cx="624" cy="214" r="1.5"/><circle cx="625" cy="215" r="1.5"/><circle cx="626" cy="214" r="1.5"/><circle cx="627" cy="215" r="1.5"/><circle cx="628" cy="213.6" r="1.5"/><circle cx="629.4" cy="209" r="1.5"/><circle cx="619" cy="213" r="1.5"/><circle cx="621" cy="211" r="1.5"/></g>
<line x1="529.5" y1="194.2" x2="529.5" y2="222.1" stroke="#4a4a4a" stroke-width="1.25"/>
<line x1="529" y1="221.5" x2="632.1" y2="221.5" stroke="#555" stroke-width="1.2"/>
<text x="523.6" y="197.5" text-anchor="end" font-family="Liberation Serif" font-size="4.3" fill="#111" stroke="#111" stroke-width="0.2">400</text>
<text x="523.6" y="208.5" text-anchor="end" font-family="Liberation Serif" font-size="4.3" fill="#111" stroke="#111" stroke-width="0.2">200</text>
<text x="523.6" y="219.5" text-anchor="end" font-family="Liberation Serif" font-size="4.3" fill="#111" stroke="#111" stroke-width="0.2">0</text>
<line x1="526.3" y1="196.5" x2="529.5" y2="196.5" stroke="#4a4a4a" stroke-width="1"/>
<line x1="526.3" y1="207.5" x2="529.5" y2="207.5" stroke="#4a4a4a" stroke-width="1"/>
<line x1="526.3" y1="218.5" x2="529.5" y2="218.5" stroke="#4a4a4a" stroke-width="1"/>
<g stroke="#e4e4e4" stroke-width="0.8" stroke-dasharray="2 0.6"><line x1="532.4" y1="226.9" x2="532.4" y2="253.5"/><line x1="548.6" y1="226.9" x2="548.6" y2="253.5"/><line x1="564.9" y1="226.9" x2="564.9" y2="253.5"/><line x1="581.1" y1="226.9" x2="581.1" y2="253.5"/><line x1="597.4" y1="226.9" x2="597.4" y2="253.5"/><line x1="613.7" y1="226.9" x2="613.7" y2="253.5"/><line x1="629.9" y1="226.9" x2="629.9" y2="253.5"/><line x1="529.5" y1="235.2" x2="632.1" y2="235.2"/><line x1="529.5" y1="244.5" x2="632.1" y2="244.5"/></g>
<g fill="#2ca02c" stroke="#fff" stroke-width="0.25" stroke-opacity="0.7"><circle cx="610.18" cy="233.81" r="1.5"/><circle cx="617.39" cy="231.37" r="1.5"/><circle cx="588.56" cy="231.06" r="1.5"/><circle cx="545.21" cy="231.88" r="1.5"/><circle cx="613.2" cy="233.5" r="1.5"/><circle cx="600.99" cy="233.97" r="1.5"/><circle cx="558.85" cy="230.38" r="1.5"/><circle cx="575.71" cy="230.87" r="1.5"/><circle cx="552.77" cy="231.5" r="1.5"/><circle cx="592.7" cy="231.87" r="1.5"/><circle cx="562.59" cy="233.46" r="1.5"/><circle cx="627.26" cy="231.68" r="1.5"/><circle cx="539.24" cy="229.74" r="1.5"/><circle cx="616.66" cy="229.79" r="1.5"/><circle cx="600.74" cy="232.22" r="1.5"/><circle cx="561.98" cy="233.24" r="1.5"/><circle cx="533.85" cy="230.23" r="1.5"/><circle cx="576.12" cy="229.71" r="1.5"/><circle cx="612.48" cy="230.69" r="1.5"/><circle cx="545.66" cy="229.82" r="1.5"/><circle cx="593.03" cy="231.65" r="1.5"/><circle cx="593.11" cy="232.61" r="1.5"/><circle cx="610.32" cy="234.01" r="1.5"/><circle cx="598.4" cy="230.52" r="1.5"/><circle cx="578.09" cy="230.42" r="1.5"/><circle cx="533.04" cy="231.77" r="1.5"/><circle cx="601.27" cy="230.42" r="1.5"/><circle cx="558.42" cy="231.19" r="1.5"/><circle cx="599.64" cy="231.99" r="1.5"/><circle cx="591.6" cy="233.08" r="1.5"/><circle cx="570.17" cy="233.24" r="1.5"/><circle cx="619.9" cy="230" r="1.5"/><circle cx="622.46" cy="232.92" r="1.5"/><circle cx="544.6" cy="231.69" r="1.5"/><circle cx="592.68" cy="233.79" r="1.5"/><circle cx="568.55" cy="232.22" r="1.5"/><circle cx="617.29" cy="233.27" r="1.5"/><circle cx="623.59" cy="231.73" r="1.5"/><circle cx="595.18" cy="230.54" r="1.5"/><circle cx="602.03" cy="233.36" r="1.5"/><circle cx="594.24" cy="232.9" r="1.5"/><circle cx="552.69" cy="233.74" r="1.5"/><circle cx="627.11" cy="234.1" r="1.5"/><circle cx="584.08" cy="233.24" r="1.5"/><circle cx="563.08" cy="233.79" r="1.5"/><circle cx="615.01" cy="231.2" r="1.5"/><circle cx="540.03" cy="231.63" r="1.5"/><circle cx="585.38" cy="233.13" r="1.5"/><circle cx="579.28" cy="229.73" r="1.5"/><circle cx="610.49" cy="229.89" r="1.5"/><circle cx="609.59" cy="230.4" r="1.5"/><circle cx="564.5" cy="233.22" r="1.5"/><circle cx="545.63" cy="230.28" r="1.5"/><circle cx="582.1" cy="232.93" r="1.5"/><circle cx="613.48" cy="232.77" r="1.5"/><circle cx="623.74" cy="231.87" r="1.5"/><circle cx="624.07" cy="230" r="1.5"/><circle cx="553.48" cy="232.02" r="1.5"/><circle cx="560.15" cy="232.95" r="1.5"/><circle cx="593.97" cy="232" r="1.5"/><circle cx="613.83" cy="232.18" r="1.5"/><circle cx="562.23" cy="231.35" r="1.5"/><circle cx="613.99" cy="233.74" r="1.5"/><circle cx="552.2" cy="233.51" r="1.5"/><circle cx="625.94" cy="232.01" r="1.5"/><circle cx="587.58" cy="230.52" r="1.5"/><circle cx="583.98" cy="231.91" r="1.5"/><circle cx="590.71" cy="229.73" r="1.5"/><circle cx="626.03" cy="231.97" r="1.5"/><circle cx="570.86" cy="233.28" r="1.5"/><circle cx="586.6" cy="231.86" r="1.5"/><circle cx="599.03" cy="229.9" r="1.5"/><circle cx="584.26" cy="231.5" r="1.5"/><circle cx="624.82" cy="233.85" r="1.5"/><circle cx="558.11" cy="231.78" r="1.5"/><circle cx="544.32" cy="231.59" r="1.5"/><circle cx="611.12" cy="233.74" r="1.5"/><circle cx="578.22" cy="231.06" r="1.5"/><circle cx="550.57" cy="232.44" r="1.5"/><circle cx="621.75" cy="230.2" r="1.5"/><circle cx="607.59" cy="229.7" r="1.5"/><circle cx="550.83" cy="230.65" r="1.5"/><circle cx="598.64" cy="231.08" r="1.5"/><circle cx="566.47" cy="232.45" r="1.5"/><circle cx="542.17" cy="232.96" r="1.5"/><circle cx="543.91" cy="231.95" r="1.5"/><circle cx="556.3" cy="230.51" r="1.5"/><circle cx="583.44" cy="231.61" r="1.5"/><circle cx="568.45" cy="231.5" r="1.5"/><circle cx="583.35" cy="230.33" r="1.5"/><circle cx="551.81" cy="232.5" r="1.5"/><circle cx="593.93" cy="232.04" r="1.5"/><circle cx="614.57" cy="232.41" r="1.5"/><circle cx="615.11" cy="230.67" r="1.5"/><circle cx="603.85" cy="233.33" r="1.5"/><circle cx="619.56" cy="231.05" r="1.5"/><circle cx="562.55" cy="233.84" r="1.5"/><circle cx="553.16" cy="234.19" r="1.5"/><circle cx="618.09" cy="230.22" r="1.5"/><circle cx="555.22" cy="232.94" r="1.5"/><circle cx="557.17" cy="230.05" r="1.5"/><circle cx="612.72" cy="231.54" r="1.5"/><circle cx="608.62" cy="230.18" r="1.5"/><circle cx="571.07" cy="232.75" r="1.5"/><circle cx="533.72" cy="230.52" r="1.5"/><circle cx="598.19" cy="233.79" r="1.5"/><circle cx="625.93" cy="230.13" r="1.5"/><circle cx="581.05" cy="233.09" r="1.5"/><circle cx="580.77" cy="232.75" r="1.5"/><circle cx="550.33" cy="229.92" r="1.5"/><circle cx="542.3" cy="229.77" r="1.5"/><circle cx="585.51" cy="231.97" r="1.5"/><circle cx="587.17" cy="230.27" r="1.5"/><circle cx="549.9" cy="230.54" r="1.5"/><circle cx="613.5" cy="234.16" r="1.5"/><circle cx="621.91" cy="230.04" r="1.5"/><circle cx="538.01" cy="233.98" r="1.5"/><circle cx="576.82" cy="233.12" r="1.5"/><circle cx="563.7" cy="231.75" r="1.5"/><circle cx="581.98" cy="231.58" r="1.5"/><circle cx="590.29" cy="229.66" r="1.5"/><circle cx="600" cy="233.48" r="1.5"/><circle cx="549.58" cy="231.69" r="1.5"/><circle cx="603.72" cy="231.46" r="1.5"/><circle cx="550.93" cy="230.36" r="1.5"/><circle cx="581.72" cy="229.67" r="1.5"/><circle cx="618.64" cy="233.29" r="1.5"/><circle cx="600.35" cy="233.56" r="1.5"/><circle cx="593.05" cy="231.46" r="1.5"/><circle cx="590.16" cy="231.92" r="1.5"/><circle cx="627.32" cy="233.3" r="1.5"/><circle cx="557.05" cy="233.79" r="1.5"/><circle cx="604.21" cy="233.18" r="1.5"/><circle cx="611.02" cy="231.47" r="1.5"/><circle cx="618.96" cy="233.65" r="1.5"/><circle cx="599.4" cy="233.13" r="1.5"/><circle cx="606.23" cy="231.47" r="1.5"/><circle cx="602.1" cy="229.92" r="1.5"/><circle cx="565.15" cy="231.76" r="1.5"/><circle cx="533.03" cy="231.24" r="1.5"/><circle cx="593.96" cy="232.47" r="1.5"/><circle cx="554.51" cy="233.95" r="1.5"/><circle cx="596.61" cy="231.15" r="1.5"/><circle cx="596" cy="232.22" r="1.5"/><circle cx="583.71" cy="231.39" r="1.5"/><circle cx="628.99" cy="232.55" r="1.5"/><circle cx="600.02" cy="233.1" r="1.5"/><circle cx="627.07" cy="229.7" r="1.5"/><circle cx="591.69" cy="233" r="1.5"/><circle cx="556.89" cy="231.45" r="1.5"/><circle cx="536.89" cy="230.5" r="1.5"/><circle cx="568.44" cy="230.05" r="1.5"/><circle cx="556.34" cy="233.77" r="1.5"/><circle cx="585.36" cy="231.94" r="1.5"/><circle cx="625.81" cy="232.21" r="1.5"/><circle cx="628.53" cy="232.53" r="1.5"/><circle cx="610.52" cy="229.95" r="1.5"/><circle cx="589.96" cy="233.09" r="1.5"/><circle cx="536.38" cy="233.88" r="1.5"/><circle cx="547.51" cy="231.77" r="1.5"/><circle cx="548.4" cy="231.88" r="1.5"/><circle cx="591.28" cy="229.87" r="1.5"/><circle cx="623.69" cy="231.54" r="1.5"/><circle cx="583.1" cy="232.35" r="1.5"/><circle cx="567.46" cy="230.91" r="1.5"/><circle cx="595.55" cy="232.18" r="1.5"/><circle cx="559.5" cy="232.9" r="1.5"/><circle cx="560.72" cy="229.66" r="1.5"/><circle cx="555.77" cy="229.8" r="1.5"/><circle cx="547.19" cy="233.07" r="1.5"/><circle cx="569.83" cy="233.73" r="1.5"/><circle cx="604.59" cy="229.83" r="1.5"/><circle cx="627.91" cy="233.94" r="1.5"/><circle cx="539.13" cy="233.77" r="1.5"/><circle cx="573.66" cy="231.8" r="1.5"/><circle cx="626.4" cy="230.72" r="1.5"/><circle cx="582.77" cy="233.91" r="1.5"/><circle cx="602.11" cy="231.75" r="1.5"/><circle cx="626.95" cy="233.36" r="1.5"/><circle cx="590.55" cy="230.13" r="1.5"/><circle cx="592.55" cy="231.7" r="1.5"/><circle cx="551.75" cy="229.84" r="1.5"/><circle cx="583.23" cy="230.17" r="1.5"/><circle cx="574.96" cy="232.67" r="1.5"/><circle cx="576.19" cy="230.81" r="1.5"/><circle cx="588.48" cy="231.53" r="1.5"/><circle cx="607.46" cy="232.04" r="1.5"/><circle cx="628.77" cy="233.98" r="1.5"/><circle cx="603.23" cy="230.7" r="1.5"/><circle cx="543.05" cy="233.71" r="1.5"/><circle cx="608.08" cy="232.47" r="1.5"/><circle cx="566.84" cy="230.85" r="1.5"/><circle cx="598.45" cy="232.2" r="1.5"/><circle cx="589.39" cy="232.51" r="1.5"/><circle cx="605.07" cy="230.47" r="1.5"/><circle cx="556.15" cy="234.11" r="1.5"/><circle cx="620.83" cy="233.64" r="1.5"/><circle cx="535.83" cy="229.88" r="1.5"/><circle cx="558.28" cy="231.56" r="1.5"/><circle cx="592.46" cy="230.07" r="1.5"/><circle cx="584.54" cy="229.93" r="1.5"/><circle cx="540.38" cy="232.71" r="1.5"/><circle cx="585.41" cy="232.5" r="1.5"/><circle cx="568.2" cy="231.8" r="1.5"/><circle cx="552.43" cy="231.18" r="1.5"/><circle cx="604.25" cy="233.46" r="1.5"/><circle cx="539.21" cy="230.15" r="1.5"/><circle cx="610.49" cy="232.47" r="1.5"/><circle cx="606.57" cy="230.58" r="1.5"/><circle cx="573.16" cy="230.79" r="1.5"/><circle cx="610.56" cy="231.3" r="1.5"/><circle cx="595.4" cy="234.15" r="1.5"/><circle cx="563.56" cy="232.12" r="1.5"/><circle cx="604.37" cy="233.84" r="1.5"/><circle cx="573.48" cy="231.3" r="1.5"/><circle cx="541.41" cy="233.63" r="1.5"/><circle cx="539.62" cy="229.98" r="1.5"/><circle cx="586.73" cy="231.83" r="1.5"/><circle cx="598.48" cy="230.97" r="1.5"/><circle cx="607.22" cy="229.95" r="1.5"/><circle cx="552.69" cy="232.65" r="1.5"/><circle cx="539.93" cy="231" r="1.5"/><circle cx="602.32" cy="232.79" r="1.5"/><circle cx="559.44" cy="230.26" r="1.5"/><circle cx="566.71" cy="232.94" r="1.5"/><circle cx="567.54" cy="230.14" r="1.5"/><circle cx="600.8" cy="232.22" r="1.5"/><circle cx="621.1" cy="233.92" r="1.5"/><circle cx="620.6" cy="231.61" r="1.5"/><circle cx="609.9" cy="231" r="1.5"/><circle cx="562.81" cy="231.44" r="1.5"/><circle cx="622.66" cy="233.72" r="1.5"/><circle cx="556.09" cy="231.26" r="1.5"/><circle cx="567.46" cy="231.27" r="1.5"/><circle cx="570.37" cy="231.38" r="1.5"/><circle cx="550.91" cy="232.19" r="1.5"/><circle cx="609.32" cy="232.09" r="1.5"/><circle cx="613.13" cy="232.19" r="1.5"/><circle cx="549.13" cy="233.09" r="1.5"/><circle cx="617.45" cy="230.89" r="1.5"/><circle cx="534.16" cy="231.97" r="1.5"/><circle cx="584.78" cy="232.21" r="1.5"/><circle cx="625.74" cy="232.6" r="1.5"/><circle cx="610.02" cy="229.89" r="1.5"/><circle cx="585.04" cy="233.23" r="1.5"/><circle cx="540.15" cy="229.98" r="1.5"/><circle cx="603.49" cy="233.74" r="1.5"/><circle cx="540.22" cy="232.52" r="1.5"/><circle cx="545.96" cy="233.03" r="1.5"/><circle cx="594.95" cy="230.73" r="1.5"/><circle cx="553.38" cy="233.12" r="1.5"/><circle cx="582.59" cy="233.12" r="1.5"/><circle cx="570.26" cy="231.15" r="1.5"/><circle cx="625.92" cy="232.69" r="1.5"/><circle cx="579.89" cy="232.07" r="1.5"/><circle cx="601.93" cy="232.86" r="1.5"/><circle cx="620.75" cy="231.49" r="1.5"/><circle cx="612.14" cy="232.67" r="1.5"/><circle cx="614.79" cy="233.31" r="1.5"/><circle cx="612.88" cy="233.69" r="1.5"/><circle cx="624.91" cy="235.88" r="1.5"/><circle cx="582.81" cy="236.2" r="1.5"/><circle cx="609.82" cy="234.9" r="1.5"/><circle cx="572.78" cy="233.66" r="1.5"/><circle cx="603.9" cy="237.46" r="1.5"/><circle cx="568.43" cy="233.75" r="1.5"/><circle cx="551.82" cy="234.91" r="1.5"/><circle cx="560.33" cy="237.36" r="1.5"/><circle cx="537.74" cy="234.39" r="1.5"/><circle cx="543.14" cy="235.92" r="1.5"/><circle cx="607.27" cy="233.81" r="1.5"/><circle cx="538.05" cy="235.06" r="1.5"/><circle cx="588.65" cy="237.09" r="1.5"/><circle cx="535.53" cy="233.49" r="1.5"/><circle cx="549.9" cy="233.98" r="1.5"/><circle cx="554.83" cy="236.23" r="1.5"/><circle cx="589.69" cy="234.01" r="1.5"/><circle cx="549.94" cy="234.26" r="1.5"/><circle cx="548.73" cy="236.41" r="1.5"/><circle cx="562.24" cy="235.47" r="1.5"/><circle cx="611.26" cy="235.16" r="1.5"/><circle cx="557.27" cy="236.99" r="1.5"/><circle cx="620.68" cy="234.54" r="1.5"/><circle cx="585.09" cy="237.31" r="1.5"/><circle cx="578.81" cy="233.99" r="1.5"/><circle cx="536.82" cy="237.26" r="1.5"/><circle cx="609.74" cy="234.73" r="1.5"/><circle cx="583.18" cy="235.32" r="1.5"/><circle cx="558.63" cy="237.46" r="1.5"/><circle cx="595.78" cy="234.07" r="1.5"/><circle cx="533.06" cy="235.13" r="1.5"/><circle cx="568.04" cy="236.59" r="1.5"/><circle cx="601.19" cy="235.73" r="1.5"/><circle cx="547.26" cy="233.71" r="1.5"/><circle cx="563.21" cy="234.17" r="1.5"/><circle cx="532" cy="245" r="1.5"/><circle cx="539" cy="250.4" r="1.5"/><circle cx="550" cy="243" r="1.5"/><circle cx="553" cy="236" r="1.5"/><circle cx="564" cy="238.4" r="1.5"/><circle cx="568" cy="245" r="1.5"/><circle cx="572" cy="238.4" r="1.5"/><circle cx="576" cy="241" r="1.5"/><circle cx="583.6" cy="242" r="1.5"/><circle cx="591" cy="240" r="1.5"/><circle cx="598" cy="239.4" r="1.5"/><circle cx="606" cy="241" r="1.5"/><circle cx="610" cy="239.4" r="1.5"/><circle cx="615" cy="250.4" r="1.5"/><circle cx="618" cy="240.4" r="1.5"/><circle cx="621" cy="239.6" r="1.5"/><circle cx="625" cy="243.6" r="1.5"/><circle cx="626" cy="243.6" r="1.5"/><circle cx="628" cy="243" r="1.5"/><circle cx="574" cy="237" r="1.5"/><circle cx="575" cy="239.6" r="1.5"/><circle cx="608" cy="238.4" r="1.5"/><circle cx="629" cy="236" r="1.5"/></g>
<line x1="529.5" y1="226.9" x2="529.5" y2="254.1" stroke="#4a4a4a" stroke-width="1.25"/>
<line x1="529" y1="253.5" x2="632.1" y2="253.5" stroke="#555" stroke-width="1.2"/>
<text x="523.6" y="236.7" text-anchor="end" font-family="Liberation Serif" font-size="4.3" fill="#111" stroke="#111" stroke-width="0.2">1200</text>
<text x="523.6" y="246" text-anchor="end" font-family="Liberation Serif" font-size="4.3" fill="#111" stroke="#111" stroke-width="0.2">1000</text>
<line x1="526.3" y1="235.5" x2="529.5" y2="235.5" stroke="#4a4a4a" stroke-width="1"/>
<line x1="526.3" y1="244.5" x2="529.5" y2="244.5" stroke="#4a4a4a" stroke-width="1"/>
<line x1="532.5" y1="253.5" x2="532.5" y2="256.7" stroke="#4a4a4a" stroke-width="1"/>
<text transform="translate(532.1 267.5) rotate(-45)" x="0" y="1.5" text-anchor="middle" font-family="Liberation Serif" font-size="4.3" fill="#111" stroke="#111" stroke-width="0.2">2013-01-01</text>
<line x1="548.5" y1="253.5" x2="548.5" y2="256.7" stroke="#4a4a4a" stroke-width="1"/>
<text transform="translate(548.3 267.5) rotate(-45)" x="0" y="1.5" text-anchor="middle" font-family="Liberation Serif" font-size="4.3" fill="#111" stroke="#111" stroke-width="0.2">2013-02-01</text>
<line x1="564.5" y1="253.5" x2="564.5" y2="256.7" stroke="#4a4a4a" stroke-width="1"/>
<text transform="translate(564.6 267.5) rotate(-45)" x="0" y="1.5" text-anchor="middle" font-family="Liberation Serif" font-size="4.3" fill="#111" stroke="#111" stroke-width="0.2">2013-03-01</text>
<line x1="581.5" y1="253.5" x2="581.5" y2="256.7" stroke="#4a4a4a" stroke-width="1"/>
<text transform="translate(580.8 267.5) rotate(-45)" x="0" y="1.5" text-anchor="middle" font-family="Liberation Serif" font-size="4.3" fill="#111" stroke="#111" stroke-width="0.2">2013-04-01</text>
<line x1="597.5" y1="253.5" x2="597.5" y2="256.7" stroke="#4a4a4a" stroke-width="1"/>
<text transform="translate(597.1 267.5) rotate(-45)" x="0" y="1.5" text-anchor="middle" font-family="Liberation Serif" font-size="4.3" fill="#111" stroke="#111" stroke-width="0.2">2013-05-01</text>
<line x1="613.5" y1="253.5" x2="613.5" y2="256.7" stroke="#4a4a4a" stroke-width="1"/>
<text transform="translate(613.4 267.5) rotate(-45)" x="0" y="1.5" text-anchor="middle" font-family="Liberation Serif" font-size="4.3" fill="#111" stroke="#111" stroke-width="0.2">2013-06-01</text>
<line x1="629.5" y1="253.5" x2="629.5" y2="256.7" stroke="#4a4a4a" stroke-width="1"/>
<text transform="translate(629.6 267.5) rotate(-45)" x="0" y="1.5" text-anchor="middle" font-family="Liberation Serif" font-size="4.3" fill="#111" stroke="#111" stroke-width="0.2">2013-07-01</text>
<text x="292.8" y="304.3" text-anchor="middle" font-family="Liberation Serif" font-size="10" fill="#111" stroke="#111" stroke-width="0.3" textLength="29" lengthAdjust="spacingAndGlyphs">ILINet</text>
<g stroke="#e4e4e4" stroke-width="0.8" stroke-dasharray="2 0.6"><line x1="244" y1="309.3" x2="244" y2="336.5"/><line x1="256.1" y1="309.3" x2="256.1" y2="336.5"/><line x1="268.3" y1="309.3" x2="268.3" y2="336.5"/><line x1="280.5" y1="309.3" x2="280.5" y2="336.5"/><line x1="292.7" y1="309.3" x2="292.7" y2="336.5"/><line x1="305.3" y1="309.3" x2="305.3" y2="336.5"/><line x1="317.7" y1="309.3" x2="317.7" y2="336.5"/><line x1="330.3" y1="309.3" x2="330.3" y2="336.5"/><line x1="342.4" y1="309.3" x2="342.4" y2="336.5"/><line x1="241.5" y1="320" x2="344.1" y2="320"/><line x1="241.5" y1="334.5" x2="344.1" y2="334.5"/></g>
<g fill="#1f77b4" stroke="#fff" stroke-width="0.25" stroke-opacity="0.7"><circle cx="243.95" cy="322.27" r="1.5"/><circle cx="245.26" cy="318.14" r="1.5"/><circle cx="246.76" cy="317.01" r="1.5"/><circle cx="247.7" cy="317.58" r="1.5"/><circle cx="248.64" cy="320.39" r="1.5"/><circle cx="249.58" cy="324.14" r="1.5"/><circle cx="250.51" cy="326.96" r="1.5"/><circle cx="251.45" cy="328.83" r="1.5"/><circle cx="252.39" cy="329.77" r="1.5"/><circle cx="254.27" cy="330.15" r="1.5"/><circle cx="256.14" cy="330.71" r="1.5"/><circle cx="258.02" cy="331.65" r="1.5"/><circle cx="259.89" cy="332.59" r="1.5"/><circle cx="261.77" cy="333.52" r="1.5"/><circle cx="279.59" cy="329.77" r="1.5"/><circle cx="281.47" cy="330.71" r="1.5"/><circle cx="283.35" cy="328.83" r="1.5"/><circle cx="285.22" cy="328.27" r="1.5"/><circle cx="287.1" cy="328.83" r="1.5"/><circle cx="288.98" cy="327.89" r="1.5"/><circle cx="290.85" cy="325.08" r="1.5"/><circle cx="292.73" cy="322.27" r="1.5"/><circle cx="293.67" cy="319.45" r="1.5"/><circle cx="295.54" cy="317.01" r="1.5"/><circle cx="296.48" cy="313.82" r="1.5"/><circle cx="297.42" cy="312.51" r="1.5"/><circle cx="298.92" cy="314.39" r="1.5"/><circle cx="300.23" cy="316.64" r="1.5"/><circle cx="301.17" cy="319.45" r="1.5"/><circle cx="302.11" cy="322.27" r="1.5"/><circle cx="303.05" cy="326.02" r="1.5"/><circle cx="304.92" cy="329.77" r="1.5"/><circle cx="306.8" cy="332.59" r="1.5"/><circle cx="308.68" cy="331.65" r="1.5"/><circle cx="310.55" cy="330.71" r="1.5"/><circle cx="328.38" cy="332.59" r="1.5"/><circle cx="330.25" cy="330.71" r="1.5"/><circle cx="332.13" cy="330.71" r="1.5"/><circle cx="334" cy="329.77" r="1.5"/><circle cx="335.88" cy="328.83" r="1.5"/><circle cx="337.76" cy="326.96" r="1.5"/><circle cx="338.69" cy="324.14" r="1.5"/><circle cx="339.63" cy="318.51" r="1.5"/><circle cx="340.57" cy="314.39" r="1.5"/><circle cx="341.88" cy="315.14" r="1.5"/><circle cx="246.01" cy="317.39" r="1.5"/><circle cx="250.14" cy="325.64" r="1.5"/><circle cx="253.33" cy="329.96" r="1.5"/><circle cx="255.2" cy="330.52" r="1.5"/><circle cx="257.08" cy="331.27" r="1.5"/><circle cx="258.96" cy="332.02" r="1.5"/><circle cx="260.83" cy="333.15" r="1.5"/><circle cx="282.41" cy="329.77" r="1.5"/><circle cx="284.29" cy="328.46" r="1.5"/><circle cx="286.16" cy="328.65" r="1.5"/><circle cx="288.04" cy="328.27" r="1.5"/><circle cx="289.91" cy="326.58" r="1.5"/><circle cx="291.79" cy="323.77" r="1.5"/><circle cx="294.6" cy="318.14" r="1.5"/><circle cx="298.17" cy="313.26" r="1.5"/><circle cx="299.67" cy="315.51" r="1.5"/><circle cx="303.98" cy="327.89" r="1.5"/><circle cx="305.86" cy="331.27" r="1.5"/><circle cx="307.74" cy="332.21" r="1.5"/><circle cx="309.61" cy="331.27" r="1.5"/><circle cx="329.31" cy="331.65" r="1.5"/><circle cx="331.19" cy="330.71" r="1.5"/><circle cx="333.07" cy="330.33" r="1.5"/><circle cx="334.94" cy="329.4" r="1.5"/><circle cx="336.82" cy="327.89" r="1.5"/></g>
<line x1="241.5" y1="309.3" x2="241.5" y2="337.1" stroke="#4a4a4a" stroke-width="1.25"/>
<line x1="241" y1="336.5" x2="344.1" y2="336.5" stroke="#555" stroke-width="1.2"/>
<text x="235.6" y="321.5" text-anchor="end" font-family="Liberation Serif" font-size="4.3" fill="#111" stroke="#111" stroke-width="0.2">5</text>
<text x="235.6" y="336" text-anchor="end" font-family="Liberation Serif" font-size="4.3" fill="#111" stroke="#111" stroke-width="0.2">0</text>
<line x1="238.3" y1="320.5" x2="241.5" y2="320.5" stroke="#4a4a4a" stroke-width="1"/>
<line x1="238.3" y1="334.5" x2="241.5" y2="334.5" stroke="#4a4a4a" stroke-width="1"/>
<g stroke="#e4e4e4" stroke-width="0.8" stroke-dasharray="2 0.6"><line x1="244" y1="342.2" x2="244" y2="369.5"/><line x1="256.1" y1="342.2" x2="256.1" y2="369.5"/><line x1="268.3" y1="342.2" x2="268.3" y2="369.5"/><line x1="280.5" y1="342.2" x2="280.5" y2="369.5"/><line x1="292.7" y1="342.2" x2="292.7" y2="369.5"/><line x1="305.3" y1="342.2" x2="305.3" y2="369.5"/><line x1="317.7" y1="342.2" x2="317.7" y2="369.5"/><line x1="330.3" y1="342.2" x2="330.3" y2="369.5"/><line x1="342.4" y1="342.2" x2="342.4" y2="369.5"/><line x1="241.5" y1="347.4" x2="344.1" y2="347.4"/><line x1="241.5" y1="357.3" x2="344.1" y2="357.3"/><line x1="241.5" y1="367.1" x2="344.1" y2="367.1"/></g>
<g fill="#ff7f0e" stroke="#fff" stroke-width="0.25" stroke-opacity="0.7"><circle cx="243.95" cy="352.63" r="1.5"/><circle cx="245.26" cy="349.26" r="1.5"/><circle cx="246.76" cy="347.76" r="1.5"/><circle cx="247.7" cy="348.32" r="1.5"/><circle cx="248.64" cy="351.13" r="1.5"/><circle cx="249.58" cy="354.89" r="1.5"/><circle cx="250.51" cy="359.58" r="1.5"/><circle cx="251.45" cy="361.45" r="1.5"/><circle cx="253.33" cy="362.77" r="1.5"/><circle cx="255.2" cy="363.89" r="1.5"/><circle cx="258.02" cy="364.27" r="1.5"/><circle cx="259.89" cy="364.64" r="1.5"/><circle cx="261.77" cy="364.64" r="1.5"/><circle cx="280.16" cy="364.64" r="1.5"/><circle cx="282.41" cy="363.33" r="1.5"/><circle cx="284.29" cy="362.39" r="1.5"/><circle cx="286.16" cy="362.02" r="1.5"/><circle cx="288.04" cy="361.45" r="1.5"/><circle cx="289.91" cy="361.45" r="1.5"/><circle cx="291.79" cy="359.01" r="1.5"/><circle cx="292.73" cy="356.76" r="1.5"/><circle cx="294.04" cy="352.07" r="1.5"/><circle cx="295.17" cy="348.32" r="1.5"/><circle cx="296.48" cy="347.01" r="1.5"/><circle cx="298.36" cy="348.88" r="1.5"/><circle cx="299.67" cy="350.76" r="1.5"/><circle cx="300.8" cy="355.82" r="1.5"/><circle cx="302.11" cy="358.64" r="1.5"/><circle cx="303.05" cy="360.89" r="1.5"/><circle cx="304.55" cy="363.33" r="1.5"/><circle cx="306.42" cy="365.2" r="1.5"/><circle cx="308.3" cy="365.77" r="1.5"/><circle cx="310.18" cy="365.2" r="1.5"/><circle cx="328.38" cy="363.33" r="1.5"/><circle cx="330.25" cy="362.77" r="1.5"/><circle cx="332.13" cy="362.39" r="1.5"/><circle cx="334" cy="361.83" r="1.5"/><circle cx="335.88" cy="360.89" r="1.5"/><circle cx="337.38" cy="358.64" r="1.5"/><circle cx="338.69" cy="355.82" r="1.5"/><circle cx="339.63" cy="349.63" r="1.5"/><circle cx="340.57" cy="345.5" r="1.5"/><circle cx="341.88" cy="346.44" r="1.5"/><circle cx="246.01" cy="348.13" r="1.5"/><circle cx="250.14" cy="357.7" r="1.5"/><circle cx="252.39" cy="362.02" r="1.5"/><circle cx="254.27" cy="363.33" r="1.5"/><circle cx="256.14" cy="364.08" r="1.5"/><circle cx="281.28" cy="363.89" r="1.5"/><circle cx="283.35" cy="362.77" r="1.5"/><circle cx="285.22" cy="362.2" r="1.5"/><circle cx="287.1" cy="361.83" r="1.5"/><circle cx="288.98" cy="361.26" r="1.5"/><circle cx="290.85" cy="360.51" r="1.5"/><circle cx="297.42" cy="347.76" r="1.5"/><circle cx="301.55" cy="357.32" r="1.5"/><circle cx="303.8" cy="362.02" r="1.5"/><circle cx="305.49" cy="364.27" r="1.5"/><circle cx="307.36" cy="365.58" r="1.5"/><circle cx="309.24" cy="365.58" r="1.5"/><circle cx="329.31" cy="363.14" r="1.5"/><circle cx="331.19" cy="362.58" r="1.5"/><circle cx="333.07" cy="362.02" r="1.5"/><circle cx="334.94" cy="361.45" r="1.5"/><circle cx="336.63" cy="359.95" r="1.5"/></g>
<line x1="241.5" y1="342.2" x2="241.5" y2="370.1" stroke="#4a4a4a" stroke-width="1.25"/>
<line x1="241" y1="369.5" x2="344.1" y2="369.5" stroke="#555" stroke-width="1.2"/>
<text x="235.6" y="348.9" text-anchor="end" font-family="Liberation Serif" font-size="4.3" fill="#111" stroke="#111" stroke-width="0.2">5.0</text>
<text x="235.6" y="358.8" text-anchor="end" font-family="Liberation Serif" font-size="4.3" fill="#111" stroke="#111" stroke-width="0.2">2.5</text>
<text x="235.6" y="368.6" text-anchor="end" font-family="Liberation Serif" font-size="4.3" fill="#111" stroke="#111" stroke-width="0.2">0.0</text>
<line x1="238.3" y1="347.5" x2="241.5" y2="347.5" stroke="#4a4a4a" stroke-width="1"/>
<line x1="238.3" y1="357.5" x2="241.5" y2="357.5" stroke="#4a4a4a" stroke-width="1"/>
<line x1="238.3" y1="367.5" x2="241.5" y2="367.5" stroke="#4a4a4a" stroke-width="1"/>
<g stroke="#e4e4e4" stroke-width="0.8" stroke-dasharray="2 0.6"><line x1="244" y1="374.9" x2="244" y2="401.5"/><line x1="256.1" y1="374.9" x2="256.1" y2="401.5"/><line x1="268.3" y1="374.9" x2="268.3" y2="401.5"/><line x1="280.5" y1="374.9" x2="280.5" y2="401.5"/><line x1="292.7" y1="374.9" x2="292.7" y2="401.5"/><line x1="305.3" y1="374.9" x2="305.3" y2="401.5"/><line x1="317.7" y1="374.9" x2="317.7" y2="401.5"/><line x1="330.3" y1="374.9" x2="330.3" y2="401.5"/><line x1="342.4" y1="374.9" x2="342.4" y2="401.5"/><line x1="241.5" y1="383" x2="344.1" y2="383"/><line x1="241.5" y1="399" x2="344.1" y2="399"/></g>
<g fill="#2ca02c" stroke="#fff" stroke-width="0.25" stroke-opacity="0.7"><circle cx="243.95" cy="388.28" r="1.5"/><circle cx="245.26" cy="385.84" r="1.5"/><circle cx="246.76" cy="384.9" r="1.5"/><circle cx="248.26" cy="387.72" r="1.5"/><circle cx="249.01" cy="391.47" r="1.5"/><circle cx="250.51" cy="394.29" r="1.5"/><circle cx="252.39" cy="396.16" r="1.5"/><circle cx="254.27" cy="397.1" r="1.5"/><circle cx="256.14" cy="398.04" r="1.5"/><circle cx="258.02" cy="398.41" r="1.5"/><circle cx="260.83" cy="398.41" r="1.5"/><circle cx="280.16" cy="397.66" r="1.5"/><circle cx="282.03" cy="396.16" r="1.5"/><circle cx="283.91" cy="394.66" r="1.5"/><circle cx="286.16" cy="393.91" r="1.5"/><circle cx="288.04" cy="393.35" r="1.5"/><circle cx="289.91" cy="392.78" r="1.5"/><circle cx="291.79" cy="392.41" r="1.5"/><circle cx="293.29" cy="392.03" r="1.5"/><circle cx="294.6" cy="385.84" r="1.5"/><circle cx="295.92" cy="383.97" r="1.5"/><circle cx="297.04" cy="382.65" r="1.5"/><circle cx="298.36" cy="385.84" r="1.5"/><circle cx="299.86" cy="386.78" r="1.5"/><circle cx="301.17" cy="390.16" r="1.5"/><circle cx="302.67" cy="394.29" r="1.5"/><circle cx="304.55" cy="397.1" r="1.5"/><circle cx="306.42" cy="398.41" r="1.5"/><circle cx="308.68" cy="398.04" r="1.5"/><circle cx="310.55" cy="397.66" r="1.5"/><circle cx="329.31" cy="394.66" r="1.5"/><circle cx="331.19" cy="393.91" r="1.5"/><circle cx="332.69" cy="392.78" r="1.5"/><circle cx="334.57" cy="391.66" r="1.5"/><circle cx="336.44" cy="390.91" r="1.5"/><circle cx="337.76" cy="386.41" r="1.5"/><circle cx="339.07" cy="381.15" r="1.5"/><circle cx="340.57" cy="377.4" r="1.5"/><circle cx="341.51" cy="378.34" r="1.5"/><circle cx="246.01" cy="385.28" r="1.5"/><circle cx="249.76" cy="392.78" r="1.5"/><circle cx="251.45" cy="395.22" r="1.5"/><circle cx="253.33" cy="396.54" r="1.5"/><circle cx="255.2" cy="397.66" r="1.5"/><circle cx="257.08" cy="398.23" r="1.5"/><circle cx="259.52" cy="398.41" r="1.5"/><circle cx="281.1" cy="396.91" r="1.5"/><circle cx="282.97" cy="395.41" r="1.5"/><circle cx="285.04" cy="394.29" r="1.5"/><circle cx="287.1" cy="393.53" r="1.5"/><circle cx="288.98" cy="392.97" r="1.5"/><circle cx="290.85" cy="392.6" r="1.5"/><circle cx="301.92" cy="392.41" r="1.5"/><circle cx="303.61" cy="395.79" r="1.5"/><circle cx="305.49" cy="398.04" r="1.5"/><circle cx="307.55" cy="398.41" r="1.5"/><circle cx="309.61" cy="397.85" r="1.5"/><circle cx="330.25" cy="394.29" r="1.5"/><circle cx="331.94" cy="393.35" r="1.5"/><circle cx="333.63" cy="392.22" r="1.5"/><circle cx="335.5" cy="391.28" r="1.5"/><circle cx="337.01" cy="389.03" r="1.5"/><circle cx="338.51" cy="383.97" r="1.5"/><circle cx="339.82" cy="379.28" r="1.5"/></g>
<line x1="241.5" y1="374.9" x2="241.5" y2="402.1" stroke="#4a4a4a" stroke-width="1.25"/>
<line x1="241" y1="401.5" x2="344.1" y2="401.5" stroke="#555" stroke-width="1.2"/>
<text x="235.6" y="384.5" text-anchor="end" font-family="Liberation Serif" font-size="4.3" fill="#111" stroke="#111" stroke-width="0.2">1000</text>
<text x="235.6" y="400.5" text-anchor="end" font-family="Liberation Serif" font-size="4.3" fill="#111" stroke="#111" stroke-width="0.2">0</text>
<line x1="238.3" y1="383.5" x2="241.5" y2="383.5" stroke="#4a4a4a" stroke-width="1"/>
<line x1="238.3" y1="399.5" x2="241.5" y2="399.5" stroke="#4a4a4a" stroke-width="1"/>
<line x1="244.5" y1="401.5" x2="244.5" y2="404.7" stroke="#4a4a4a" stroke-width="1"/>
<text transform="translate(243.7 415.5) rotate(-45)" x="0" y="1.5" text-anchor="middle" font-family="Liberation Serif" font-size="4.3" fill="#111" stroke="#111" stroke-width="0.2">2009-01-01</text>
<line x1="256.5" y1="401.5" x2="256.5" y2="404.7" stroke="#4a4a4a" stroke-width="1"/>
<text transform="translate(255.8 415.5) rotate(-45)" x="0" y="1.5" text-anchor="middle" font-family="Liberation Serif" font-size="4.3" fill="#111" stroke="#111" stroke-width="0.2">2009-04-01</text>
<line x1="268.5" y1="401.5" x2="268.5" y2="404.7" stroke="#4a4a4a" stroke-width="1"/>
<text transform="translate(268 415.5) rotate(-45)" x="0" y="1.5" text-anchor="middle" font-family="Liberation Serif" font-size="4.3" fill="#111" stroke="#111" stroke-width="0.2">2009-07-01</text>
<line x1="280.5" y1="401.5" x2="280.5" y2="404.7" stroke="#4a4a4a" stroke-width="1"/>
<text transform="translate(280.2 415.5) rotate(-45)" x="0" y="1.5" text-anchor="middle" font-family="Liberation Serif" font-size="4.3" fill="#111" stroke="#111" stroke-width="0.2">2009-10-01</text>
<line x1="292.5" y1="401.5" x2="292.5" y2="404.7" stroke="#4a4a4a" stroke-width="1"/>
<text transform="translate(292.4 415.5) rotate(-45)" x="0" y="1.5" text-anchor="middle" font-family="Liberation Serif" font-size="4.3" fill="#111" stroke="#111" stroke-width="0.2">2010-01-01</text>
<line x1="305.5" y1="401.5" x2="305.5" y2="404.7" stroke="#4a4a4a" stroke-width="1"/>
<text transform="translate(305 415.5) rotate(-45)" x="0" y="1.5" text-anchor="middle" font-family="Liberation Serif" font-size="4.3" fill="#111" stroke="#111" stroke-width="0.2">2010-04-01</text>
<line x1="317.5" y1="401.5" x2="317.5" y2="404.7" stroke="#4a4a4a" stroke-width="1"/>
<text transform="translate(317.4 415.5) rotate(-45)" x="0" y="1.5" text-anchor="middle" font-family="Liberation Serif" font-size="4.3" fill="#111" stroke="#111" stroke-width="0.2">2010-07-01</text>
<line x1="330.5" y1="401.5" x2="330.5" y2="404.7" stroke="#4a4a4a" stroke-width="1"/>
<text transform="translate(330 415.5) rotate(-45)" x="0" y="1.5" text-anchor="middle" font-family="Liberation Serif" font-size="4.3" fill="#111" stroke="#111" stroke-width="0.2">2010-10-01</text>
<line x1="342.5" y1="401.5" x2="342.5" y2="404.7" stroke="#4a4a4a" stroke-width="1"/>
<text transform="translate(342.1 415.5) rotate(-45)" x="0" y="1.5" text-anchor="middle" font-family="Liberation Serif" font-size="4.3" fill="#111" stroke="#111" stroke-width="0.2">2011-01-01</text>
<text x="436.8" y="304.3" text-anchor="middle" font-family="Liberation Serif" font-size="10" fill="#111" stroke="#111" stroke-width="0.3" textLength="39.4" lengthAdjust="spacingAndGlyphs">CESNET</text>
<g stroke="#e4e4e4" stroke-width="0.8" stroke-dasharray="2 0.6"><line x1="391.3" y1="309.3" x2="391.3" y2="336.5"/><line x1="400.1" y1="309.3" x2="400.1" y2="336.5"/><line x1="409.6" y1="309.3" x2="409.6" y2="336.5"/><line x1="418.8" y1="309.3" x2="418.8" y2="336.5"/><line x1="427.9" y1="309.3" x2="427.9" y2="336.5"/><line x1="437.1" y1="309.3" x2="437.1" y2="336.5"/><line x1="446.2" y1="309.3" x2="446.2" y2="336.5"/><line x1="455" y1="309.3" x2="455" y2="336.5"/><line x1="463.9" y1="309.3" x2="463.9" y2="336.5"/><line x1="472.6" y1="309.3" x2="472.6" y2="336.5"/><line x1="481.8" y1="309.3" x2="481.8" y2="336.5"/><line x1="385.5" y1="315.1" x2="488.1" y2="315.1"/><line x1="385.5" y1="324.5" x2="488.1" y2="324.5"/><line x1="385.5" y1="334.5" x2="488.1" y2="334.5"/></g>
<g fill="#1f77b4" stroke="#fff" stroke-width="0.25" stroke-opacity="0.7"><circle cx="388.2" cy="332.59" r="1.5"/><circle cx="390.64" cy="329.4" r="1.5"/><circle cx="391.2" cy="333.15" r="1.5"/><circle cx="400.96" cy="330.33" r="1.5"/><circle cx="402.83" cy="333.15" r="1.5"/><circle cx="407.15" cy="323.58" r="1.5"/><circle cx="416.53" cy="332.59" r="1.5"/><circle cx="419.72" cy="329.4" r="1.5"/><circle cx="422.53" cy="323.2" r="1.5"/><circle cx="424.41" cy="312.51" r="1.5"/><circle cx="430.98" cy="324.71" r="1.5"/><circle cx="436.04" cy="326.96" r="1.5"/><circle cx="441.29" cy="313.26" r="1.5"/><circle cx="444.48" cy="313.26" r="1.5"/><circle cx="452.55" cy="312.51" r="1.5"/><circle cx="452.55" cy="314.76" r="1.5"/><circle cx="456.3" cy="316.64" r="1.5"/><circle cx="464.75" cy="333.52" r="1.5"/><circle cx="472.25" cy="329.77" r="1.5"/><circle cx="473.19" cy="326.39" r="1.5"/><circle cx="478.44" cy="333.52" r="1.5"/><circle cx="482.57" cy="323.77" r="1.5"/><circle cx="485.38" cy="332.96" r="1.5"/></g>
<line x1="385.5" y1="309.3" x2="385.5" y2="337.1" stroke="#4a4a4a" stroke-width="1.25"/>
<line x1="385" y1="336.5" x2="488.1" y2="336.5" stroke="#555" stroke-width="1.2"/>
<text x="379.6" y="316.6" text-anchor="end" font-family="Liberation Serif" font-size="4.3" fill="#111" stroke="#111" stroke-width="0.2">600</text>
<text x="379.6" y="326" text-anchor="end" font-family="Liberation Serif" font-size="4.3" fill="#111" stroke="#111" stroke-width="0.2">400</text>
<text x="379.6" y="336" text-anchor="end" font-family="Liberation Serif" font-size="4.3" fill="#111" stroke="#111" stroke-width="0.2">200</text>
<line x1="382.3" y1="315.5" x2="385.5" y2="315.5" stroke="#4a4a4a" stroke-width="1"/>
<line x1="382.3" y1="324.5" x2="385.5" y2="324.5" stroke="#4a4a4a" stroke-width="1"/>
<line x1="382.3" y1="334.5" x2="385.5" y2="334.5" stroke="#4a4a4a" stroke-width="1"/>
<g stroke="#e4e4e4" stroke-width="0.8" stroke-dasharray="2 0.6"><line x1="391.3" y1="342.2" x2="391.3" y2="369.5"/><line x1="400.1" y1="342.2" x2="400.1" y2="369.5"/><line x1="409.6" y1="342.2" x2="409.6" y2="369.5"/><line x1="418.8" y1="342.2" x2="418.8" y2="369.5"/><line x1="427.9" y1="342.2" x2="427.9" y2="369.5"/><line x1="437.1" y1="342.2" x2="437.1" y2="369.5"/><line x1="446.2" y1="342.2" x2="446.2" y2="369.5"/><line x1="455" y1="342.2" x2="455" y2="369.5"/><line x1="463.9" y1="342.2" x2="463.9" y2="369.5"/><line x1="472.6" y1="342.2" x2="472.6" y2="369.5"/><line x1="481.8" y1="342.2" x2="481.8" y2="369.5"/><line x1="385.5" y1="350.8" x2="488.1" y2="350.8"/><line x1="385.5" y1="361.5" x2="488.1" y2="361.5"/></g>
<g fill="#ff7f0e" stroke="#fff" stroke-width="0.25" stroke-opacity="0.7"><circle cx="388.2" cy="365.2" r="1.5"/><circle cx="390.64" cy="363.33" r="1.5"/><circle cx="391.2" cy="362.39" r="1.5"/><circle cx="400.96" cy="365.2" r="1.5"/><circle cx="402.27" cy="365.77" r="1.5"/><circle cx="403.77" cy="365.77" r="1.5"/><circle cx="407.15" cy="358.64" r="1.5"/><circle cx="416.53" cy="362.39" r="1.5"/><circle cx="419.72" cy="362.39" r="1.5"/><circle cx="422.53" cy="359.01" r="1.5"/><circle cx="424.41" cy="349.82" r="1.5"/><circle cx="430.98" cy="356.39" r="1.5"/><circle cx="436.04" cy="360.14" r="1.5"/><circle cx="441.29" cy="352.63" r="1.5"/><circle cx="444.48" cy="344.94" r="1.5"/><circle cx="452.55" cy="351.51" r="1.5"/><circle cx="452.55" cy="353.95" r="1.5"/><circle cx="456.3" cy="355.45" r="1.5"/><circle cx="464.75" cy="366.14" r="1.5"/><circle cx="472.25" cy="362.39" r="1.5"/><circle cx="473.19" cy="361.83" r="1.5"/><circle cx="478.44" cy="365.58" r="1.5"/><circle cx="482.57" cy="359.2" r="1.5"/><circle cx="485.38" cy="363.7" r="1.5"/></g>
<line x1="385.5" y1="342.2" x2="385.5" y2="370.1" stroke="#4a4a4a" stroke-width="1.25"/>
<line x1="385" y1="369.5" x2="488.1" y2="369.5" stroke="#555" stroke-width="1.2"/>
<text x="379.6" y="352.3" text-anchor="end" font-family="Liberation Serif" font-size="4.3" fill="#111" stroke="#111" stroke-width="0.2">4000</text>
<text x="379.6" y="363" text-anchor="end" font-family="Liberation Serif" font-size="4.3" fill="#111" stroke="#111" stroke-width="0.2">2000</text>
<line x1="382.3" y1="350.5" x2="385.5" y2="350.5" stroke="#4a4a4a" stroke-width="1"/>
<line x1="382.3" y1="361.5" x2="385.5" y2="361.5" stroke="#4a4a4a" stroke-width="1"/>
<g stroke="#e4e4e4" stroke-width="0.8" stroke-dasharray="2 0.6"><line x1="391.3" y1="374.9" x2="391.3" y2="401.5"/><line x1="400.1" y1="374.9" x2="400.1" y2="401.5"/><line x1="409.6" y1="374.9" x2="409.6" y2="401.5"/><line x1="418.8" y1="374.9" x2="418.8" y2="401.5"/><line x1="427.9" y1="374.9" x2="427.9" y2="401.5"/><line x1="437.1" y1="374.9" x2="437.1" y2="401.5"/><line x1="446.2" y1="374.9" x2="446.2" y2="401.5"/><line x1="455" y1="374.9" x2="455" y2="401.5"/><line x1="463.9" y1="374.9" x2="463.9" y2="401.5"/><line x1="472.6" y1="374.9" x2="472.6" y2="401.5"/><line x1="481.8" y1="374.9" x2="481.8" y2="401.5"/><line x1="385.5" y1="383.4" x2="488.1" y2="383.4"/><line x1="385.5" y1="394.7" x2="488.1" y2="394.7"/></g>
<g fill="#2ca02c" stroke="#fff" stroke-width="0.25" stroke-opacity="0.7"><circle cx="388.2" cy="398.41" r="1.5"/><circle cx="390.64" cy="393.91" r="1.5"/><circle cx="391.2" cy="396.54" r="1.5"/><circle cx="400.96" cy="396.16" r="1.5"/><circle cx="402.27" cy="396.54" r="1.5"/><circle cx="403.77" cy="397.1" r="1.5"/><circle cx="407.15" cy="389.22" r="1.5"/><circle cx="416.53" cy="396.16" r="1.5"/><circle cx="419.72" cy="391.85" r="1.5"/><circle cx="422.53" cy="391.1" r="1.5"/><circle cx="424.41" cy="381.71" r="1.5"/><circle cx="430.98" cy="391.47" r="1.5"/><circle cx="436.04" cy="393.35" r="1.5"/><circle cx="441.29" cy="386.22" r="1.5"/><circle cx="444.48" cy="377.77" r="1.5"/><circle cx="452.55" cy="384.9" r="1.5"/><circle cx="452.55" cy="387.72" r="1.5"/><circle cx="456.3" cy="384.53" r="1.5"/><circle cx="464.75" cy="397.66" r="1.5"/><circle cx="472.25" cy="397.66" r="1.5"/><circle cx="473.19" cy="394.29" r="1.5"/><circle cx="478.44" cy="395.79" r="1.5"/><circle cx="482.57" cy="387.72" r="1.5"/><circle cx="485.38" cy="398.41" r="1.5"/></g>
<line x1="385.5" y1="374.9" x2="385.5" y2="402.1" stroke="#4a4a4a" stroke-width="1.25"/>
<line x1="385" y1="401.5" x2="488.1" y2="401.5" stroke="#555" stroke-width="1.2"/>
<text x="379.6" y="384.9" text-anchor="end" font-family="Liberation Serif" font-size="4.3" fill="#111" stroke="#111" stroke-width="0.2">60000</text>
<text x="379.6" y="396.2" text-anchor="end" font-family="Liberation Serif" font-size="4.3" fill="#111" stroke="#111" stroke-width="0.2">40000</text>
<line x1="382.3" y1="383.5" x2="385.5" y2="383.5" stroke="#4a4a4a" stroke-width="1"/>
<line x1="382.3" y1="394.5" x2="385.5" y2="394.5" stroke="#4a4a4a" stroke-width="1"/>
<line x1="391.5" y1="401.5" x2="391.5" y2="404.7" stroke="#4a4a4a" stroke-width="1"/>
<text transform="translate(391 415.5) rotate(-45)" x="0" y="1.5" text-anchor="middle" font-family="Liberation Serif" font-size="4.3" fill="#111" stroke="#111" stroke-width="0.2">01-01 03:00</text>
<line x1="400.5" y1="401.5" x2="400.5" y2="404.7" stroke="#4a4a4a" stroke-width="1"/>
<text transform="translate(399.8 415.5) rotate(-45)" x="0" y="1.5" text-anchor="middle" font-family="Liberation Serif" font-size="4.3" fill="#111" stroke="#111" stroke-width="0.2">01-01 04:00</text>
<line x1="409.5" y1="401.5" x2="409.5" y2="404.7" stroke="#4a4a4a" stroke-width="1"/>
<text transform="translate(409.3 415.5) rotate(-45)" x="0" y="1.5" text-anchor="middle" font-family="Liberation Serif" font-size="4.3" fill="#111" stroke="#111" stroke-width="0.2">01-01 06:00</text>
<line x1="418.5" y1="401.5" x2="418.5" y2="404.7" stroke="#4a4a4a" stroke-width="1"/>
<text transform="translate(418.5 415.5) rotate(-45)" x="0" y="1.5" text-anchor="middle" font-family="Liberation Serif" font-size="4.3" fill="#111" stroke="#111" stroke-width="0.2">01-01 08:00</text>
<line x1="427.5" y1="401.5" x2="427.5" y2="404.7" stroke="#4a4a4a" stroke-width="1"/>
<text transform="translate(427.6 415.5) rotate(-45)" x="0" y="1.5" text-anchor="middle" font-family="Liberation Serif" font-size="4.3" fill="#111" stroke="#111" stroke-width="0.2">01-01 10:00</text>
<line x1="437.5" y1="401.5" x2="437.5" y2="404.7" stroke="#4a4a4a" stroke-width="1"/>
<text transform="translate(436.8 415.5) rotate(-45)" x="0" y="1.5" text-anchor="middle" font-family="Liberation Serif" font-size="4.3" fill="#111" stroke="#111" stroke-width="0.2">01-01 12:00</text>
<line x1="446.5" y1="401.5" x2="446.5" y2="404.7" stroke="#4a4a4a" stroke-width="1"/>
<text transform="translate(445.9 415.5) rotate(-45)" x="0" y="1.5" text-anchor="middle" font-family="Liberation Serif" font-size="4.3" fill="#111" stroke="#111" stroke-width="0.2">01-01 14:00</text>
<line x1="455.5" y1="401.5" x2="455.5" y2="404.7" stroke="#4a4a4a" stroke-width="1"/>
<text transform="translate(454.7 415.5) rotate(-45)" x="0" y="1.5" text-anchor="middle" font-family="Liberation Serif" font-size="4.3" fill="#111" stroke="#111" stroke-width="0.2">01-01 16:00</text>
<line x1="463.5" y1="401.5" x2="463.5" y2="404.7" stroke="#4a4a4a" stroke-width="1"/>
<text transform="translate(463.6 415.5) rotate(-45)" x="0" y="1.5" text-anchor="middle" font-family="Liberation Serif" font-size="4.3" fill="#111" stroke="#111" stroke-width="0.2">01-01 18:00</text>
<line x1="472.5" y1="401.5" x2="472.5" y2="404.7" stroke="#4a4a4a" stroke-width="1"/>
<text transform="translate(472.3 415.5) rotate(-45)" x="0" y="1.5" text-anchor="middle" font-family="Liberation Serif" font-size="4.3" fill="#111" stroke="#111" stroke-width="0.2">01-01 20:00</text>
<line x1="481.5" y1="401.5" x2="481.5" y2="404.7" stroke="#4a4a4a" stroke-width="1"/>
<text transform="translate(481.5 415.5) rotate(-45)" x="0" y="1.5" text-anchor="middle" font-family="Liberation Serif" font-size="4.3" fill="#111" stroke="#111" stroke-width="0.2">01-01 22:00</text>
<text x="580.8" y="304.3" text-anchor="middle" font-family="Liberation Serif" font-size="10" fill="#111" stroke="#111" stroke-width="0.3" textLength="33.6" lengthAdjust="spacingAndGlyphs">EPA-Air</text>
<g stroke="#e4e4e4" stroke-width="0.8" stroke-dasharray="2 0.6"><line x1="532.4" y1="309.3" x2="532.4" y2="336.5"/><line x1="544.4" y1="309.3" x2="544.4" y2="336.5"/><line x1="556.6" y1="309.3" x2="556.6" y2="336.5"/><line x1="568.6" y1="309.3" x2="568.6" y2="336.5"/><line x1="580.6" y1="309.3" x2="580.6" y2="336.5"/><line x1="592.8" y1="309.3" x2="592.8" y2="336.5"/><line x1="604.8" y1="309.3" x2="604.8" y2="336.5"/><line x1="617.2" y1="309.3" x2="617.2" y2="336.5"/><line x1="629.2" y1="309.3" x2="629.2" y2="336.5"/><line x1="529.5" y1="321" x2="632.1" y2="321"/><line x1="529.5" y1="334.6" x2="632.1" y2="334.6"/></g>
<g fill="#1f77b4" stroke="#fff" stroke-width="0.25" stroke-opacity="0.7"><circle cx="531.4" cy="322" r="1.5"/><circle cx="534" cy="322" r="1.5"/><circle cx="536.4" cy="322" r="1.5"/><circle cx="538.4" cy="324" r="1.5"/><circle cx="540.4" cy="325.6" r="1.5"/><circle cx="542" cy="324" r="1.5"/><circle cx="544" cy="323.4" r="1.5"/><circle cx="546" cy="323.4" r="1.5"/><circle cx="548" cy="322.4" r="1.5"/><circle cx="550" cy="320" r="1.5"/><circle cx="552" cy="317" r="1.5"/><circle cx="554.4" cy="312.4" r="1.5"/><circle cx="556.4" cy="313.6" r="1.5"/><circle cx="558.4" cy="315" r="1.5"/><circle cx="561" cy="315.4" r="1.5"/><circle cx="563" cy="316" r="1.5"/><circle cx="565" cy="316" r="1.5"/><circle cx="568" cy="316" r="1.5"/><circle cx="570" cy="316.6" r="1.5"/><circle cx="572" cy="318" r="1.5"/><circle cx="574" cy="320" r="1.5"/><circle cx="576" cy="323" r="1.5"/><circle cx="579" cy="326" r="1.5"/><circle cx="581" cy="327.6" r="1.5"/><circle cx="583" cy="330" r="1.5"/><circle cx="585.6" cy="331.6" r="1.5"/><circle cx="588" cy="332" r="1.5"/><circle cx="590.4" cy="332" r="1.5"/><circle cx="592.6" cy="333" r="1.5"/><circle cx="594.6" cy="333.4" r="1.5"/><circle cx="596" cy="331.6" r="1.5"/><circle cx="598" cy="328" r="1.5"/><circle cx="600" cy="325" r="1.5"/><circle cx="602" cy="321" r="1.5"/><circle cx="604" cy="318" r="1.5"/><circle cx="606" cy="316.6" r="1.5"/><circle cx="609" cy="316.6" r="1.5"/><circle cx="611" cy="316" r="1.5"/><circle cx="613" cy="319" r="1.5"/><circle cx="615" cy="321" r="1.5"/><circle cx="617" cy="324" r="1.5"/><circle cx="619" cy="327" r="1.5"/><circle cx="621" cy="327" r="1.5"/><circle cx="623" cy="326.4" r="1.5"/><circle cx="625" cy="328.4" r="1.5"/><circle cx="627" cy="330.4" r="1.5"/><circle cx="629" cy="332" r="1.5"/></g>
<line x1="529.5" y1="309.3" x2="529.5" y2="337.1" stroke="#4a4a4a" stroke-width="1.25"/>
<line x1="529" y1="336.5" x2="632.1" y2="336.5" stroke="#555" stroke-width="1.2"/>
<text x="523.6" y="322.5" text-anchor="end" font-family="Liberation Serif" font-size="4.3" fill="#111" stroke="#111" stroke-width="0.2">40</text>
<text x="523.6" y="336.1" text-anchor="end" font-family="Liberation Serif" font-size="4.3" fill="#111" stroke="#111" stroke-width="0.2">30</text>
<line x1="526.3" y1="321.5" x2="529.5" y2="321.5" stroke="#4a4a4a" stroke-width="1"/>
<line x1="526.3" y1="334.5" x2="529.5" y2="334.5" stroke="#4a4a4a" stroke-width="1"/>
<g stroke="#e4e4e4" stroke-width="0.8" stroke-dasharray="2 0.6"><line x1="532.4" y1="342.2" x2="532.4" y2="369.5"/><line x1="544.4" y1="342.2" x2="544.4" y2="369.5"/><line x1="556.6" y1="342.2" x2="556.6" y2="369.5"/><line x1="568.6" y1="342.2" x2="568.6" y2="369.5"/><line x1="580.6" y1="342.2" x2="580.6" y2="369.5"/><line x1="592.8" y1="342.2" x2="592.8" y2="369.5"/><line x1="604.8" y1="342.2" x2="604.8" y2="369.5"/><line x1="617.2" y1="342.2" x2="617.2" y2="369.5"/><line x1="629.2" y1="342.2" x2="629.2" y2="369.5"/><line x1="529.5" y1="345.9" x2="632.1" y2="345.9"/><line x1="529.5" y1="353.8" x2="632.1" y2="353.8"/><line x1="529.5" y1="361.5" x2="632.1" y2="361.5"/></g>
<g fill="#ff7f0e" stroke="#fff" stroke-width="0.25" stroke-opacity="0.7"><circle cx="532.36" cy="345.24" r="1.5"/><circle cx="548.2" cy="358.36" r="1.5"/><circle cx="564.49" cy="362.21" r="1.5"/><circle cx="580.55" cy="366.05" r="1.5"/><circle cx="596.84" cy="365.83" r="1.5"/><circle cx="613.13" cy="363.79" r="1.5"/><circle cx="629.19" cy="359.72" r="1.5"/></g>
<line x1="529.5" y1="342.2" x2="529.5" y2="370.1" stroke="#4a4a4a" stroke-width="1.25"/>
<line x1="529" y1="369.5" x2="632.1" y2="369.5" stroke="#555" stroke-width="1.2"/>
<text x="523.6" y="347.4" text-anchor="end" font-family="Liberation Serif" font-size="4.3" fill="#111" stroke="#111" stroke-width="0.2">30</text>
<text x="523.6" y="355.3" text-anchor="end" font-family="Liberation Serif" font-size="4.3" fill="#111" stroke="#111" stroke-width="0.2">20</text>
<text x="523.6" y="363" text-anchor="end" font-family="Liberation Serif" font-size="4.3" fill="#111" stroke="#111" stroke-width="0.2">10</text>
<line x1="526.3" y1="345.5" x2="529.5" y2="345.5" stroke="#4a4a4a" stroke-width="1"/>
<line x1="526.3" y1="353.5" x2="529.5" y2="353.5" stroke="#4a4a4a" stroke-width="1"/>
<line x1="526.3" y1="361.5" x2="529.5" y2="361.5" stroke="#4a4a4a" stroke-width="1"/>
<g stroke="#e4e4e4" stroke-width="0.8" stroke-dasharray="2 0.6"><line x1="532.4" y1="374.9" x2="532.4" y2="401.5"/><line x1="544.4" y1="374.9" x2="544.4" y2="401.5"/><line x1="556.6" y1="374.9" x2="556.6" y2="401.5"/><line x1="568.6" y1="374.9" x2="568.6" y2="401.5"/><line x1="580.6" y1="374.9" x2="580.6" y2="401.5"/><line x1="592.8" y1="374.9" x2="592.8" y2="401.5"/><line x1="604.8" y1="374.9" x2="604.8" y2="401.5"/><line x1="617.2" y1="374.9" x2="617.2" y2="401.5"/><line x1="629.2" y1="374.9" x2="629.2" y2="401.5"/><line x1="529.5" y1="375.3" x2="632.1" y2="375.3"/><line x1="529.5" y1="387.3" x2="632.1" y2="387.3"/><line x1="529.5" y1="399.1" x2="632.1" y2="399.1"/></g>
<g fill="#2ca02c" stroke="#fff" stroke-width="0.25" stroke-opacity="0.7"><circle cx="532.36" cy="377.59" r="1.5"/><circle cx="580.55" cy="398.63" r="1.5"/><circle cx="629.19" cy="383.7" r="1.5"/></g>
<line x1="529.5" y1="374.9" x2="529.5" y2="402.1" stroke="#4a4a4a" stroke-width="1.25"/>
<line x1="529" y1="401.5" x2="632.1" y2="401.5" stroke="#555" stroke-width="1.2"/>
<text x="523.6" y="376.8" text-anchor="end" font-family="Liberation Serif" font-size="4.3" fill="#111" stroke="#111" stroke-width="0.2">80</text>
<text x="523.6" y="388.8" text-anchor="end" font-family="Liberation Serif" font-size="4.3" fill="#111" stroke="#111" stroke-width="0.2">60</text>
<text x="523.6" y="400.6" text-anchor="end" font-family="Liberation Serif" font-size="4.3" fill="#111" stroke="#111" stroke-width="0.2">40</text>
<line x1="526.3" y1="375.5" x2="529.5" y2="375.5" stroke="#4a4a4a" stroke-width="1"/>
<line x1="526.3" y1="387.5" x2="529.5" y2="387.5" stroke="#4a4a4a" stroke-width="1"/>
<line x1="526.3" y1="399.5" x2="529.5" y2="399.5" stroke="#4a4a4a" stroke-width="1"/>
<line x1="532.5" y1="401.5" x2="532.5" y2="404.7" stroke="#4a4a4a" stroke-width="1"/>
<text transform="translate(532.1 415.5) rotate(-45)" x="0" y="1.5" text-anchor="middle" font-family="Liberation Serif" font-size="4.3" fill="#111" stroke="#111" stroke-width="0.2">01-01 00:00</text>
<line x1="544.5" y1="401.5" x2="544.5" y2="404.7" stroke="#4a4a4a" stroke-width="1"/>
<text transform="translate(544.1 415.5) rotate(-45)" x="0" y="1.5" text-anchor="middle" font-family="Liberation Serif" font-size="4.3" fill="#111" stroke="#111" stroke-width="0.2">01-01 06:00</text>
<line x1="556.5" y1="401.5" x2="556.5" y2="404.7" stroke="#4a4a4a" stroke-width="1"/>
<text transform="translate(556.3 415.5) rotate(-45)" x="0" y="1.5" text-anchor="middle" font-family="Liberation Serif" font-size="4.3" fill="#111" stroke="#111" stroke-width="0.2">01-01 12:00</text>
<line x1="568.5" y1="401.5" x2="568.5" y2="404.7" stroke="#4a4a4a" stroke-width="1"/>
<text transform="translate(568.3 415.5) rotate(-45)" x="0" y="1.5" text-anchor="middle" font-family="Liberation Serif" font-size="4.3" fill="#111" stroke="#111" stroke-width="0.2">01-01 18:00</text>
<line x1="580.5" y1="401.5" x2="580.5" y2="404.7" stroke="#4a4a4a" stroke-width="1"/>
<text transform="translate(580.3 415.5) rotate(-45)" x="0" y="1.5" text-anchor="middle" font-family="Liberation Serif" font-size="4.3" fill="#111" stroke="#111" stroke-width="0.2">01-02 00:00</text>
<line x1="592.5" y1="401.5" x2="592.5" y2="404.7" stroke="#4a4a4a" stroke-width="1"/>
<text transform="translate(592.5 415.5) rotate(-45)" x="0" y="1.5" text-anchor="middle" font-family="Liberation Serif" font-size="4.3" fill="#111" stroke="#111" stroke-width="0.2">01-02 06:00</text>
<line x1="604.5" y1="401.5" x2="604.5" y2="404.7" stroke="#4a4a4a" stroke-width="1"/>
<text transform="translate(604.5 415.5) rotate(-45)" x="0" y="1.5" text-anchor="middle" font-family="Liberation Serif" font-size="4.3" fill="#111" stroke="#111" stroke-width="0.2">01-02 12:00</text>
<line x1="617.5" y1="401.5" x2="617.5" y2="404.7" stroke="#4a4a4a" stroke-width="1"/>
<text transform="translate(616.9 415.5) rotate(-45)" x="0" y="1.5" text-anchor="middle" font-family="Liberation Serif" font-size="4.3" fill="#111" stroke="#111" stroke-width="0.2">01-02 18:00</text>
<line x1="629.5" y1="401.5" x2="629.5" y2="404.7" stroke="#4a4a4a" stroke-width="1"/>
<text transform="translate(628.9 415.5) rotate(-45)" x="0" y="1.5" text-anchor="middle" font-family="Liberation Serif" font-size="4.3" fill="#111" stroke="#111" stroke-width="0.2">01-03 00:00</text>
<g font-family="Liberation Serif" font-size="21.8" fill="#000" stroke="#000" stroke-width="0.15">
<text x="0.9" y="458.0" textLength="87.3" lengthAdjust="spacingAndGlyphs">taxonomy</text>
<text x="92.0" y="458.0">of</text>
<text x="113.8" y="458.0" textLength="75" lengthAdjust="spacingAndGlyphs">irregular</text>
<text x="225.6" y="458.0" textLength="56.3" lengthAdjust="spacingAndGlyphs">Figure</text>
<text x="289.4" y="458.0">2:</text>
<text x="314.7" y="458.0" textLength="116.5" lengthAdjust="spacingAndGlyphs">Visualization</text>
<text x="441.0" y="457.8">of</text>
<text x="465.0" y="458.0" textLength="43.75" lengthAdjust="spacingAndGlyphs">three</text>
<text x="516.6" y="458.0">representative</text>
</g>

</svg></div>
</body></html>
